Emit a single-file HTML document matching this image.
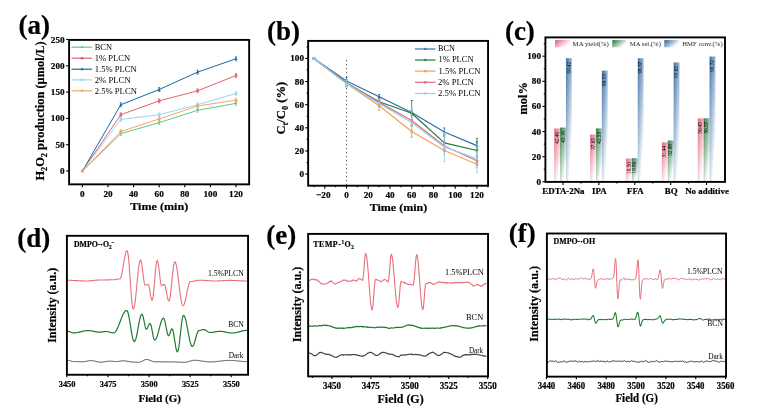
<!DOCTYPE html>
<html><head><meta charset="utf-8"><style>
html,body{margin:0;padding:0;background:#fff;width:762px;height:411px;overflow:hidden}
svg{display:block;font-family:"Liberation Serif", serif;will-change:transform}
text[font-weight="bold"]{stroke:#000;stroke-width:0.2px}
</style></head><body>
<svg width="762" height="411" viewBox="0 0 762 411">
<rect width="762" height="411" fill="#fff"/>
<text x="18.4" y="34.35" font-size="27" font-weight="bold" fill="#000">(a)</text>
<path d="M82.4 171 L120.8 133.65 L159.2 122.61 L197.6 110.25 L236 103.36" fill="none" stroke="#62c985" stroke-width="1" stroke-linejoin="round"/>
<line x1="120.8" y1="131.65" x2="120.8" y2="135.65" stroke="#62c985" stroke-width="0.7"/>
<line x1="119.7" y1="131.65" x2="121.9" y2="131.65" stroke="#62c985" stroke-width="0.7"/>
<line x1="119.7" y1="135.65" x2="121.9" y2="135.65" stroke="#62c985" stroke-width="0.7"/>
<line x1="159.2" y1="120.61" x2="159.2" y2="124.61" stroke="#62c985" stroke-width="0.7"/>
<line x1="158.1" y1="120.61" x2="160.3" y2="120.61" stroke="#62c985" stroke-width="0.7"/>
<line x1="158.1" y1="124.61" x2="160.3" y2="124.61" stroke="#62c985" stroke-width="0.7"/>
<line x1="197.6" y1="108.25" x2="197.6" y2="112.25" stroke="#62c985" stroke-width="0.7"/>
<line x1="196.5" y1="108.25" x2="198.7" y2="108.25" stroke="#62c985" stroke-width="0.7"/>
<line x1="196.5" y1="112.25" x2="198.7" y2="112.25" stroke="#62c985" stroke-width="0.7"/>
<line x1="236" y1="101.36" x2="236" y2="105.36" stroke="#62c985" stroke-width="0.7"/>
<line x1="234.9" y1="101.36" x2="237.1" y2="101.36" stroke="#62c985" stroke-width="0.7"/>
<line x1="234.9" y1="105.36" x2="237.1" y2="105.36" stroke="#62c985" stroke-width="0.7"/>
<path d="M80.8 169.88 L84 169.88 L82.4 172.76 Z" fill="#62c985"/>
<path d="M119.2 132.53 L122.4 132.53 L120.8 135.41 Z" fill="#62c985"/>
<path d="M157.6 121.49 L160.8 121.49 L159.2 124.37 Z" fill="#62c985"/>
<path d="M196 109.13 L199.2 109.13 L197.6 112.01 Z" fill="#62c985"/>
<path d="M234.4 102.24 L237.6 102.24 L236 105.12 Z" fill="#62c985"/>
<path d="M82.4 171 L120.8 114.72 L159.2 100.88 L197.6 90.78 L236 75.53" fill="none" stroke="#e4606f" stroke-width="1" stroke-linejoin="round"/>
<line x1="120.8" y1="112.72" x2="120.8" y2="116.72" stroke="#e4606f" stroke-width="0.7"/>
<line x1="119.7" y1="112.72" x2="121.9" y2="112.72" stroke="#e4606f" stroke-width="0.7"/>
<line x1="119.7" y1="116.72" x2="121.9" y2="116.72" stroke="#e4606f" stroke-width="0.7"/>
<line x1="159.2" y1="98.88" x2="159.2" y2="102.88" stroke="#e4606f" stroke-width="0.7"/>
<line x1="158.1" y1="98.88" x2="160.3" y2="98.88" stroke="#e4606f" stroke-width="0.7"/>
<line x1="158.1" y1="102.88" x2="160.3" y2="102.88" stroke="#e4606f" stroke-width="0.7"/>
<line x1="197.6" y1="88.78" x2="197.6" y2="92.78" stroke="#e4606f" stroke-width="0.7"/>
<line x1="196.5" y1="88.78" x2="198.7" y2="88.78" stroke="#e4606f" stroke-width="0.7"/>
<line x1="196.5" y1="92.78" x2="198.7" y2="92.78" stroke="#e4606f" stroke-width="0.7"/>
<line x1="236" y1="73.53" x2="236" y2="77.53" stroke="#e4606f" stroke-width="0.7"/>
<line x1="234.9" y1="73.53" x2="237.1" y2="73.53" stroke="#e4606f" stroke-width="0.7"/>
<line x1="234.9" y1="77.53" x2="237.1" y2="77.53" stroke="#e4606f" stroke-width="0.7"/>
<rect x="81.12" y="169.72" width="2.56" height="2.56" fill="#e4606f"/>
<rect x="119.52" y="113.44" width="2.56" height="2.56" fill="#e4606f"/>
<rect x="157.92" y="99.6" width="2.56" height="2.56" fill="#e4606f"/>
<rect x="196.32" y="89.5" width="2.56" height="2.56" fill="#e4606f"/>
<rect x="234.72" y="74.25" width="2.56" height="2.56" fill="#e4606f"/>
<path d="M82.4 171 L120.8 104.72 L159.2 89.52 L197.6 72.11 L236 58.75" fill="none" stroke="#1a6aa0" stroke-width="1" stroke-linejoin="round"/>
<line x1="120.8" y1="102.72" x2="120.8" y2="106.72" stroke="#1a6aa0" stroke-width="0.7"/>
<line x1="119.7" y1="102.72" x2="121.9" y2="102.72" stroke="#1a6aa0" stroke-width="0.7"/>
<line x1="119.7" y1="106.72" x2="121.9" y2="106.72" stroke="#1a6aa0" stroke-width="0.7"/>
<line x1="159.2" y1="87.52" x2="159.2" y2="91.52" stroke="#1a6aa0" stroke-width="0.7"/>
<line x1="158.1" y1="87.52" x2="160.3" y2="87.52" stroke="#1a6aa0" stroke-width="0.7"/>
<line x1="158.1" y1="91.52" x2="160.3" y2="91.52" stroke="#1a6aa0" stroke-width="0.7"/>
<line x1="197.6" y1="70.11" x2="197.6" y2="74.11" stroke="#1a6aa0" stroke-width="0.7"/>
<line x1="196.5" y1="70.11" x2="198.7" y2="70.11" stroke="#1a6aa0" stroke-width="0.7"/>
<line x1="196.5" y1="74.11" x2="198.7" y2="74.11" stroke="#1a6aa0" stroke-width="0.7"/>
<line x1="236" y1="56.75" x2="236" y2="60.75" stroke="#1a6aa0" stroke-width="0.7"/>
<line x1="234.9" y1="56.75" x2="237.1" y2="56.75" stroke="#1a6aa0" stroke-width="0.7"/>
<line x1="234.9" y1="60.75" x2="237.1" y2="60.75" stroke="#1a6aa0" stroke-width="0.7"/>
<path d="M80.8 172.12 L84 172.12 L82.4 169.24 Z" fill="#1a6aa0"/>
<path d="M119.2 105.84 L122.4 105.84 L120.8 102.96 Z" fill="#1a6aa0"/>
<path d="M157.6 90.64 L160.8 90.64 L159.2 87.76 Z" fill="#1a6aa0"/>
<path d="M196 73.23 L199.2 73.23 L197.6 70.35 Z" fill="#1a6aa0"/>
<path d="M234.4 59.87 L237.6 59.87 L236 56.99 Z" fill="#1a6aa0"/>
<path d="M82.4 171 L120.8 119.45 L159.2 114.72 L197.6 104.72 L236 93.47" fill="none" stroke="#9ad6f2" stroke-width="1" stroke-linejoin="round"/>
<line x1="120.8" y1="117.45" x2="120.8" y2="121.45" stroke="#9ad6f2" stroke-width="0.7"/>
<line x1="119.7" y1="117.45" x2="121.9" y2="117.45" stroke="#9ad6f2" stroke-width="0.7"/>
<line x1="119.7" y1="121.45" x2="121.9" y2="121.45" stroke="#9ad6f2" stroke-width="0.7"/>
<line x1="159.2" y1="112.72" x2="159.2" y2="116.72" stroke="#9ad6f2" stroke-width="0.7"/>
<line x1="158.1" y1="112.72" x2="160.3" y2="112.72" stroke="#9ad6f2" stroke-width="0.7"/>
<line x1="158.1" y1="116.72" x2="160.3" y2="116.72" stroke="#9ad6f2" stroke-width="0.7"/>
<line x1="197.6" y1="102.72" x2="197.6" y2="106.72" stroke="#9ad6f2" stroke-width="0.7"/>
<line x1="196.5" y1="102.72" x2="198.7" y2="102.72" stroke="#9ad6f2" stroke-width="0.7"/>
<line x1="196.5" y1="106.72" x2="198.7" y2="106.72" stroke="#9ad6f2" stroke-width="0.7"/>
<line x1="236" y1="91.47" x2="236" y2="95.47" stroke="#9ad6f2" stroke-width="0.7"/>
<line x1="234.9" y1="91.47" x2="237.1" y2="91.47" stroke="#9ad6f2" stroke-width="0.7"/>
<line x1="234.9" y1="95.47" x2="237.1" y2="95.47" stroke="#9ad6f2" stroke-width="0.7"/>
<rect x="81.12" y="169.72" width="2.56" height="2.56" fill="#9ad6f2"/>
<rect x="119.52" y="118.17" width="2.56" height="2.56" fill="#9ad6f2"/>
<rect x="157.92" y="113.44" width="2.56" height="2.56" fill="#9ad6f2"/>
<rect x="196.32" y="103.44" width="2.56" height="2.56" fill="#9ad6f2"/>
<rect x="234.72" y="92.19" width="2.56" height="2.56" fill="#9ad6f2"/>
<path d="M82.4 171 L120.8 131.55 L159.2 118.93 L197.6 105.99 L236 100.15" fill="none" stroke="#f4a66a" stroke-width="1" stroke-linejoin="round"/>
<line x1="120.8" y1="129.55" x2="120.8" y2="133.55" stroke="#f4a66a" stroke-width="0.7"/>
<line x1="119.7" y1="129.55" x2="121.9" y2="129.55" stroke="#f4a66a" stroke-width="0.7"/>
<line x1="119.7" y1="133.55" x2="121.9" y2="133.55" stroke="#f4a66a" stroke-width="0.7"/>
<line x1="159.2" y1="116.93" x2="159.2" y2="120.93" stroke="#f4a66a" stroke-width="0.7"/>
<line x1="158.1" y1="116.93" x2="160.3" y2="116.93" stroke="#f4a66a" stroke-width="0.7"/>
<line x1="158.1" y1="120.93" x2="160.3" y2="120.93" stroke="#f4a66a" stroke-width="0.7"/>
<line x1="197.6" y1="103.99" x2="197.6" y2="107.99" stroke="#f4a66a" stroke-width="0.7"/>
<line x1="196.5" y1="103.99" x2="198.7" y2="103.99" stroke="#f4a66a" stroke-width="0.7"/>
<line x1="196.5" y1="107.99" x2="198.7" y2="107.99" stroke="#f4a66a" stroke-width="0.7"/>
<line x1="236" y1="98.15" x2="236" y2="102.15" stroke="#f4a66a" stroke-width="0.7"/>
<line x1="234.9" y1="98.15" x2="237.1" y2="98.15" stroke="#f4a66a" stroke-width="0.7"/>
<line x1="234.9" y1="102.15" x2="237.1" y2="102.15" stroke="#f4a66a" stroke-width="0.7"/>
<circle cx="82.4" cy="171" r="1.44" fill="#f4a66a"/>
<circle cx="120.8" cy="131.55" r="1.44" fill="#f4a66a"/>
<circle cx="159.2" cy="118.93" r="1.44" fill="#f4a66a"/>
<circle cx="197.6" cy="105.99" r="1.44" fill="#f4a66a"/>
<circle cx="236" cy="100.15" r="1.44" fill="#f4a66a"/>
<line x1="71.6" y1="47.2" x2="92" y2="47.2" stroke="#62c985" stroke-width="1.2"/>
<path d="M80.4 46.15 L83.4 46.15 L81.9 48.85 Z" fill="#62c985"/>
<text x="94.75" y="49.55" font-size="8.04" font-weight="normal" fill="#000" textLength="17.25" lengthAdjust="spacingAndGlyphs">BCN</text>
<line x1="71.6" y1="58.2" x2="92" y2="58.2" stroke="#e4606f" stroke-width="1.2"/>
<rect x="80.7" y="57" width="2.4" height="2.4" fill="#e4606f"/>
<text x="94.75" y="61.15" font-size="8.93" font-weight="normal" fill="#000" textLength="35.54" lengthAdjust="spacingAndGlyphs">1% PLCN</text>
<line x1="71.6" y1="69.2" x2="92" y2="69.2" stroke="#1a6aa0" stroke-width="1.2"/>
<path d="M80.4 70.25 L83.4 70.25 L81.9 67.55 Z" fill="#1a6aa0"/>
<text x="94.75" y="72.05" font-size="8.93" font-weight="normal" fill="#000" textLength="42.01" lengthAdjust="spacingAndGlyphs">1.5% PLCN</text>
<line x1="71.6" y1="79.9" x2="92" y2="79.9" stroke="#9ad6f2" stroke-width="1.2"/>
<rect x="80.7" y="78.7" width="2.4" height="2.4" fill="#9ad6f2"/>
<text x="94.75" y="82.95" font-size="8.78" font-weight="normal" fill="#000" textLength="35.91" lengthAdjust="spacingAndGlyphs">2% PLCN</text>
<line x1="71.6" y1="90.8" x2="92" y2="90.8" stroke="#f4a66a" stroke-width="1.2"/>
<circle cx="81.9" cy="90.8" r="1.35" fill="#f4a66a"/>
<text x="94.75" y="93.65" font-size="9.08" font-weight="normal" fill="#000" textLength="42.1" lengthAdjust="spacingAndGlyphs">2.5% PLCN</text>
<rect x="69.1" y="39.9" width="180.05" height="144.45" fill="none" stroke="#000" stroke-width="1.9"/>
<line x1="66.1" y1="171" x2="69.1" y2="171" stroke="#000" stroke-width="1.1"/>
<line x1="66.1" y1="144.7" x2="69.1" y2="144.7" stroke="#000" stroke-width="1.1"/>
<line x1="66.1" y1="118.4" x2="69.1" y2="118.4" stroke="#000" stroke-width="1.1"/>
<line x1="66.1" y1="92.1" x2="69.1" y2="92.1" stroke="#000" stroke-width="1.1"/>
<line x1="66.1" y1="65.8" x2="69.1" y2="65.8" stroke="#000" stroke-width="1.1"/>
<line x1="66.1" y1="39.5" x2="69.1" y2="39.5" stroke="#000" stroke-width="1.1"/>
<line x1="82.4" y1="184.35" x2="82.4" y2="187.35" stroke="#000" stroke-width="1.1"/>
<line x1="108" y1="184.35" x2="108" y2="187.35" stroke="#000" stroke-width="1.1"/>
<line x1="133.6" y1="184.35" x2="133.6" y2="187.35" stroke="#000" stroke-width="1.1"/>
<line x1="159.2" y1="184.35" x2="159.2" y2="187.35" stroke="#000" stroke-width="1.1"/>
<line x1="184.8" y1="184.35" x2="184.8" y2="187.35" stroke="#000" stroke-width="1.1"/>
<line x1="210.4" y1="184.35" x2="210.4" y2="187.35" stroke="#000" stroke-width="1.1"/>
<line x1="236" y1="184.35" x2="236" y2="187.35" stroke="#000" stroke-width="1.1"/>
<text x="60" y="174" font-size="9.2" font-weight="bold" fill="#000">0</text>
<text x="55.4" y="147.7" font-size="9.2" font-weight="bold" fill="#000">50</text>
<text x="50.8" y="121.4" font-size="9.2" font-weight="bold" fill="#000">100</text>
<text x="50.8" y="95.1" font-size="9.2" font-weight="bold" fill="#000">150</text>
<text x="50.8" y="68.8" font-size="9.2" font-weight="bold" fill="#000">200</text>
<text x="50.8" y="42.5" font-size="9.2" font-weight="bold" fill="#000">250</text>
<text x="80.1" y="196.6" font-size="9.2" font-weight="bold" fill="#000">0</text>
<text x="103.4" y="196.6" font-size="9.2" font-weight="bold" fill="#000">20</text>
<text x="129" y="196.6" font-size="9.2" font-weight="bold" fill="#000">40</text>
<text x="154.6" y="196.6" font-size="9.2" font-weight="bold" fill="#000">60</text>
<text x="180.2" y="196.6" font-size="9.2" font-weight="bold" fill="#000">80</text>
<text x="203.5" y="196.6" font-size="9.2" font-weight="bold" fill="#000">100</text>
<text x="229.1" y="196.6" font-size="9.2" font-weight="bold" fill="#000">120</text>
<text x="130.2" y="209.5" font-size="11.3" font-weight="bold" fill="#000" textLength="58.02" lengthAdjust="spacingAndGlyphs">Time (min)</text>
<text x="179.9" y="0" font-size="12" font-weight="bold" text-anchor="end" transform="translate(43.6 0) rotate(-90) translate(0 0)" style="display:none"></text>
<text font-size="12.4" font-weight="bold" transform="translate(44.4 180.6) rotate(-90)" x="0" y="0">H<tspan font-size="8.3" dy="2.7">2</tspan><tspan dy="-2.7">O</tspan><tspan font-size="8.3" dy="2.7">2</tspan><tspan dy="-2.7"> production (µmol/L)</tspan></text>
<text x="267" y="40.45" font-size="27" font-weight="bold" fill="#000">(b)</text>
<line x1="346.5" y1="60" x2="346.5" y2="185.7" stroke="#444" stroke-width="0.85" stroke-dasharray="1.3 2.7"/>
<path d="M313.89 58.4 L346.5 80.96 L379.11 96.81 L411.72 112.55 L444.33 131.99 L476.94 145.64" fill="none" stroke="#2a6fa8" stroke-width="1.2" stroke-linejoin="round"/>
<path d="M312.29 59.52 L315.49 59.52 L313.89 56.64 Z" fill="#2a6fa8"/>
<line x1="346.5" y1="77.49" x2="346.5" y2="84.43" stroke="#2a6fa8" stroke-width="0.8"/>
<line x1="345.3" y1="77.49" x2="347.7" y2="77.49" stroke="#2a6fa8" stroke-width="0.8"/>
<line x1="345.3" y1="84.43" x2="347.7" y2="84.43" stroke="#2a6fa8" stroke-width="0.8"/>
<path d="M344.9 82.08 L348.1 82.08 L346.5 79.2 Z" fill="#2a6fa8"/>
<line x1="379.11" y1="94.5" x2="379.11" y2="99.13" stroke="#2a6fa8" stroke-width="0.8"/>
<line x1="377.91" y1="94.5" x2="380.31" y2="94.5" stroke="#2a6fa8" stroke-width="0.8"/>
<line x1="377.91" y1="99.13" x2="380.31" y2="99.13" stroke="#2a6fa8" stroke-width="0.8"/>
<path d="M377.51 97.93 L380.71 97.93 L379.11 95.05 Z" fill="#2a6fa8"/>
<line x1="411.72" y1="110.23" x2="411.72" y2="114.86" stroke="#2a6fa8" stroke-width="0.8"/>
<line x1="410.52" y1="110.23" x2="412.92" y2="110.23" stroke="#2a6fa8" stroke-width="0.8"/>
<line x1="410.52" y1="114.86" x2="412.92" y2="114.86" stroke="#2a6fa8" stroke-width="0.8"/>
<path d="M410.12 113.67 L413.32 113.67 L411.72 110.79 Z" fill="#2a6fa8"/>
<line x1="444.33" y1="127.94" x2="444.33" y2="136.03" stroke="#2a6fa8" stroke-width="0.8"/>
<line x1="443.13" y1="127.94" x2="445.53" y2="127.94" stroke="#2a6fa8" stroke-width="0.8"/>
<line x1="443.13" y1="136.03" x2="445.53" y2="136.03" stroke="#2a6fa8" stroke-width="0.8"/>
<path d="M442.73 133.11 L445.93 133.11 L444.33 130.23 Z" fill="#2a6fa8"/>
<line x1="476.94" y1="141.59" x2="476.94" y2="149.69" stroke="#2a6fa8" stroke-width="0.8"/>
<line x1="475.74" y1="141.59" x2="478.14" y2="141.59" stroke="#2a6fa8" stroke-width="0.8"/>
<line x1="475.74" y1="149.69" x2="478.14" y2="149.69" stroke="#2a6fa8" stroke-width="0.8"/>
<path d="M475.34 146.76 L478.54 146.76 L476.94 143.88 Z" fill="#2a6fa8"/>
<path d="M313.89 58.4 L346.5 82.93 L379.11 101.79 L411.72 113.24 L444.33 142.86 L476.94 150.5" fill="none" stroke="#237a36" stroke-width="1.2" stroke-linejoin="round"/>
<path d="M312.29 57.28 L315.49 57.28 L313.89 60.16 Z" fill="#237a36"/>
<line x1="346.5" y1="79.46" x2="346.5" y2="86.4" stroke="#237a36" stroke-width="0.8"/>
<line x1="345.3" y1="79.46" x2="347.7" y2="79.46" stroke="#237a36" stroke-width="0.8"/>
<line x1="345.3" y1="86.4" x2="347.7" y2="86.4" stroke="#237a36" stroke-width="0.8"/>
<path d="M344.9 81.81 L348.1 81.81 L346.5 84.69 Z" fill="#237a36"/>
<line x1="379.11" y1="98.32" x2="379.11" y2="105.26" stroke="#237a36" stroke-width="0.8"/>
<line x1="377.91" y1="98.32" x2="380.31" y2="98.32" stroke="#237a36" stroke-width="0.8"/>
<line x1="377.91" y1="105.26" x2="380.31" y2="105.26" stroke="#237a36" stroke-width="0.8"/>
<path d="M377.51 100.67 L380.71 100.67 L379.11 103.55 Z" fill="#237a36"/>
<line x1="411.72" y1="100.51" x2="411.72" y2="125.97" stroke="#237a36" stroke-width="0.8"/>
<line x1="410.52" y1="100.51" x2="412.92" y2="100.51" stroke="#237a36" stroke-width="0.8"/>
<line x1="410.52" y1="125.97" x2="412.92" y2="125.97" stroke="#237a36" stroke-width="0.8"/>
<path d="M410.12 112.12 L413.32 112.12 L411.72 115 Z" fill="#237a36"/>
<line x1="444.33" y1="134.18" x2="444.33" y2="151.54" stroke="#237a36" stroke-width="0.8"/>
<line x1="443.13" y1="134.18" x2="445.53" y2="134.18" stroke="#237a36" stroke-width="0.8"/>
<line x1="443.13" y1="151.54" x2="445.53" y2="151.54" stroke="#237a36" stroke-width="0.8"/>
<path d="M442.73 141.74 L445.93 141.74 L444.33 144.62 Z" fill="#237a36"/>
<line x1="476.94" y1="138.35" x2="476.94" y2="162.65" stroke="#237a36" stroke-width="0.8"/>
<line x1="475.74" y1="138.35" x2="478.14" y2="138.35" stroke="#237a36" stroke-width="0.8"/>
<line x1="475.74" y1="162.65" x2="478.14" y2="162.65" stroke="#237a36" stroke-width="0.8"/>
<path d="M475.34 149.38 L478.54 149.38 L476.94 152.26 Z" fill="#237a36"/>
<path d="M313.89 58.4 L346.5 83.62 L379.11 105.84 L411.72 131.52 L444.33 150.5 L476.94 164.27" fill="none" stroke="#f4a052" stroke-width="1.2" stroke-linejoin="round"/>
<rect x="312.61" y="57.12" width="2.56" height="2.56" fill="#f4a052"/>
<line x1="346.5" y1="80.15" x2="346.5" y2="87.09" stroke="#f4a052" stroke-width="0.8"/>
<line x1="345.3" y1="80.15" x2="347.7" y2="80.15" stroke="#f4a052" stroke-width="0.8"/>
<line x1="345.3" y1="87.09" x2="347.7" y2="87.09" stroke="#f4a052" stroke-width="0.8"/>
<rect x="345.22" y="82.34" width="2.56" height="2.56" fill="#f4a052"/>
<line x1="379.11" y1="101.21" x2="379.11" y2="110.46" stroke="#f4a052" stroke-width="0.8"/>
<line x1="377.91" y1="101.21" x2="380.31" y2="101.21" stroke="#f4a052" stroke-width="0.8"/>
<line x1="377.91" y1="110.46" x2="380.31" y2="110.46" stroke="#f4a052" stroke-width="0.8"/>
<rect x="377.83" y="104.56" width="2.56" height="2.56" fill="#f4a052"/>
<line x1="411.72" y1="125.74" x2="411.72" y2="137.31" stroke="#f4a052" stroke-width="0.8"/>
<line x1="410.52" y1="125.74" x2="412.92" y2="125.74" stroke="#f4a052" stroke-width="0.8"/>
<line x1="410.52" y1="137.31" x2="412.92" y2="137.31" stroke="#f4a052" stroke-width="0.8"/>
<rect x="410.44" y="130.24" width="2.56" height="2.56" fill="#f4a052"/>
<line x1="444.33" y1="147.03" x2="444.33" y2="153.97" stroke="#f4a052" stroke-width="0.8"/>
<line x1="443.13" y1="147.03" x2="445.53" y2="147.03" stroke="#f4a052" stroke-width="0.8"/>
<line x1="443.13" y1="153.97" x2="445.53" y2="153.97" stroke="#f4a052" stroke-width="0.8"/>
<rect x="443.05" y="149.22" width="2.56" height="2.56" fill="#f4a052"/>
<line x1="476.94" y1="160.79" x2="476.94" y2="167.74" stroke="#f4a052" stroke-width="0.8"/>
<line x1="475.74" y1="160.79" x2="478.14" y2="160.79" stroke="#f4a052" stroke-width="0.8"/>
<line x1="475.74" y1="167.74" x2="478.14" y2="167.74" stroke="#f4a052" stroke-width="0.8"/>
<rect x="475.66" y="162.99" width="2.56" height="2.56" fill="#f4a052"/>
<path d="M313.89 58.4 L346.5 83.16 L379.11 102.37 L411.72 120.53 L444.33 145.98 L476.94 160.68" fill="none" stroke="#e06a7c" stroke-width="1.2" stroke-linejoin="round"/>
<circle cx="313.89" cy="58.4" r="1.44" fill="#e06a7c"/>
<line x1="346.5" y1="80.85" x2="346.5" y2="85.47" stroke="#e06a7c" stroke-width="0.8"/>
<line x1="345.3" y1="80.85" x2="347.7" y2="80.85" stroke="#e06a7c" stroke-width="0.8"/>
<line x1="345.3" y1="85.47" x2="347.7" y2="85.47" stroke="#e06a7c" stroke-width="0.8"/>
<circle cx="346.5" cy="83.16" r="1.44" fill="#e06a7c"/>
<line x1="379.11" y1="98.89" x2="379.11" y2="105.84" stroke="#e06a7c" stroke-width="0.8"/>
<line x1="377.91" y1="98.89" x2="380.31" y2="98.89" stroke="#e06a7c" stroke-width="0.8"/>
<line x1="377.91" y1="105.84" x2="380.31" y2="105.84" stroke="#e06a7c" stroke-width="0.8"/>
<circle cx="379.11" cy="102.37" r="1.44" fill="#e06a7c"/>
<line x1="411.72" y1="115.9" x2="411.72" y2="125.16" stroke="#e06a7c" stroke-width="0.8"/>
<line x1="410.52" y1="115.9" x2="412.92" y2="115.9" stroke="#e06a7c" stroke-width="0.8"/>
<line x1="410.52" y1="125.16" x2="412.92" y2="125.16" stroke="#e06a7c" stroke-width="0.8"/>
<circle cx="411.72" cy="120.53" r="1.44" fill="#e06a7c"/>
<line x1="444.33" y1="142.51" x2="444.33" y2="149.46" stroke="#e06a7c" stroke-width="0.8"/>
<line x1="443.13" y1="142.51" x2="445.53" y2="142.51" stroke="#e06a7c" stroke-width="0.8"/>
<line x1="443.13" y1="149.46" x2="445.53" y2="149.46" stroke="#e06a7c" stroke-width="0.8"/>
<circle cx="444.33" cy="145.98" r="1.44" fill="#e06a7c"/>
<line x1="476.94" y1="156.05" x2="476.94" y2="165.31" stroke="#e06a7c" stroke-width="0.8"/>
<line x1="475.74" y1="156.05" x2="478.14" y2="156.05" stroke="#e06a7c" stroke-width="0.8"/>
<line x1="475.74" y1="165.31" x2="478.14" y2="165.31" stroke="#e06a7c" stroke-width="0.8"/>
<circle cx="476.94" cy="160.68" r="1.44" fill="#e06a7c"/>
<path d="M313.89 58.4 L346.5 83.39 L379.11 103.52 L411.72 122.5 L444.33 146.91 L476.94 158.71" fill="none" stroke="#8fd2f0" stroke-width="1.2" stroke-linejoin="round"/>
<path d="M312.29 58.4 L313.89 56.8 L315.49 58.4 L313.89 60 Z" fill="#8fd2f0"/>
<line x1="346.5" y1="79.92" x2="346.5" y2="86.86" stroke="#8fd2f0" stroke-width="0.8"/>
<line x1="345.3" y1="79.92" x2="347.7" y2="79.92" stroke="#8fd2f0" stroke-width="0.8"/>
<line x1="345.3" y1="86.86" x2="347.7" y2="86.86" stroke="#8fd2f0" stroke-width="0.8"/>
<path d="M344.9 83.39 L346.5 81.79 L348.1 83.39 L346.5 84.99 Z" fill="#8fd2f0"/>
<line x1="379.11" y1="98.89" x2="379.11" y2="108.15" stroke="#8fd2f0" stroke-width="0.8"/>
<line x1="377.91" y1="98.89" x2="380.31" y2="98.89" stroke="#8fd2f0" stroke-width="0.8"/>
<line x1="377.91" y1="108.15" x2="380.31" y2="108.15" stroke="#8fd2f0" stroke-width="0.8"/>
<path d="M377.51 103.52 L379.11 101.92 L380.71 103.52 L379.11 105.12 Z" fill="#8fd2f0"/>
<line x1="411.72" y1="108.04" x2="411.72" y2="136.96" stroke="#8fd2f0" stroke-width="0.8"/>
<line x1="410.52" y1="108.04" x2="412.92" y2="108.04" stroke="#8fd2f0" stroke-width="0.8"/>
<line x1="410.52" y1="136.96" x2="412.92" y2="136.96" stroke="#8fd2f0" stroke-width="0.8"/>
<path d="M410.12 122.5 L411.72 120.9 L413.32 122.5 L411.72 124.1 Z" fill="#8fd2f0"/>
<line x1="444.33" y1="132.45" x2="444.33" y2="161.37" stroke="#8fd2f0" stroke-width="0.8"/>
<line x1="443.13" y1="132.45" x2="445.53" y2="132.45" stroke="#8fd2f0" stroke-width="0.8"/>
<line x1="443.13" y1="161.37" x2="445.53" y2="161.37" stroke="#8fd2f0" stroke-width="0.8"/>
<path d="M442.73 146.91 L444.33 145.31 L445.93 146.91 L444.33 148.51 Z" fill="#8fd2f0"/>
<line x1="476.94" y1="144.83" x2="476.94" y2="172.6" stroke="#8fd2f0" stroke-width="0.8"/>
<line x1="475.74" y1="144.83" x2="478.14" y2="144.83" stroke="#8fd2f0" stroke-width="0.8"/>
<line x1="475.74" y1="172.6" x2="478.14" y2="172.6" stroke="#8fd2f0" stroke-width="0.8"/>
<path d="M475.34 158.71 L476.94 157.11 L478.54 158.71 L476.94 160.31 Z" fill="#8fd2f0"/>
<line x1="415" y1="49" x2="435.5" y2="49" stroke="#2a6fa8" stroke-width="1.2"/>
<path d="M423.7 50.05 L426.7 50.05 L425.2 47.35 Z" fill="#2a6fa8"/>
<text x="438.05" y="51.45" font-size="7.29" font-weight="normal" fill="#000" textLength="17.01" lengthAdjust="spacingAndGlyphs">BCN</text>
<line x1="415" y1="60" x2="435.5" y2="60" stroke="#237a36" stroke-width="1.2"/>
<path d="M423.7 58.95 L426.7 58.95 L425.2 61.65 Z" fill="#237a36"/>
<text x="438.45" y="62.45" font-size="7.89" font-weight="normal" fill="#000" textLength="35.18" lengthAdjust="spacingAndGlyphs">1% PLCN</text>
<line x1="415" y1="71.1" x2="435.5" y2="71.1" stroke="#f4a052" stroke-width="1.2"/>
<rect x="424" y="69.9" width="2.4" height="2.4" fill="#f4a052"/>
<text x="438.45" y="74.15" font-size="8.78" font-weight="normal" fill="#000" textLength="42.04" lengthAdjust="spacingAndGlyphs">1.5% PLCN</text>
<line x1="415" y1="82.3" x2="435.5" y2="82.3" stroke="#e06a7c" stroke-width="1.2"/>
<circle cx="425.2" cy="82.3" r="1.35" fill="#e06a7c"/>
<text x="438.05" y="84.95" font-size="8.78" font-weight="normal" fill="#000" textLength="35.81" lengthAdjust="spacingAndGlyphs">2% PLCN</text>
<line x1="415" y1="93.5" x2="435.5" y2="93.5" stroke="#8fd2f0" stroke-width="1.2"/>
<path d="M423.7 93.5 L425.2 92 L426.7 93.5 L425.2 95 Z" fill="#8fd2f0"/>
<text x="438.05" y="96.05" font-size="8.63" font-weight="normal" fill="#000" textLength="42.45" lengthAdjust="spacingAndGlyphs">2.5% PLCN</text>
<rect x="308.15" y="40.9" width="179.9" height="144.8" fill="none" stroke="#000" stroke-width="1.9"/>
<line x1="305.15" y1="174.1" x2="308.15" y2="174.1" stroke="#000" stroke-width="1.1"/>
<line x1="305.15" y1="150.96" x2="308.15" y2="150.96" stroke="#000" stroke-width="1.1"/>
<line x1="305.15" y1="127.82" x2="308.15" y2="127.82" stroke="#000" stroke-width="1.1"/>
<line x1="305.15" y1="104.68" x2="308.15" y2="104.68" stroke="#000" stroke-width="1.1"/>
<line x1="305.15" y1="81.54" x2="308.15" y2="81.54" stroke="#000" stroke-width="1.1"/>
<line x1="305.15" y1="58.4" x2="308.15" y2="58.4" stroke="#000" stroke-width="1.1"/>
<line x1="306.55" y1="162.53" x2="308.15" y2="162.53" stroke="#000" stroke-width="1.1"/>
<line x1="306.55" y1="139.39" x2="308.15" y2="139.39" stroke="#000" stroke-width="1.1"/>
<line x1="306.55" y1="116.25" x2="308.15" y2="116.25" stroke="#000" stroke-width="1.1"/>
<line x1="306.55" y1="93.11" x2="308.15" y2="93.11" stroke="#000" stroke-width="1.1"/>
<line x1="306.55" y1="69.97" x2="308.15" y2="69.97" stroke="#000" stroke-width="1.1"/>
<line x1="306.55" y1="46.83" x2="308.15" y2="46.83" stroke="#000" stroke-width="1.1"/>
<line x1="324.76" y1="185.7" x2="324.76" y2="188.7" stroke="#000" stroke-width="1.1"/>
<line x1="346.5" y1="185.7" x2="346.5" y2="188.7" stroke="#000" stroke-width="1.1"/>
<line x1="368.24" y1="185.7" x2="368.24" y2="188.7" stroke="#000" stroke-width="1.1"/>
<line x1="389.98" y1="185.7" x2="389.98" y2="188.7" stroke="#000" stroke-width="1.1"/>
<line x1="411.72" y1="185.7" x2="411.72" y2="188.7" stroke="#000" stroke-width="1.1"/>
<line x1="433.46" y1="185.7" x2="433.46" y2="188.7" stroke="#000" stroke-width="1.1"/>
<line x1="455.2" y1="185.7" x2="455.2" y2="188.7" stroke="#000" stroke-width="1.1"/>
<line x1="476.94" y1="185.7" x2="476.94" y2="188.7" stroke="#000" stroke-width="1.1"/>
<line x1="313.89" y1="185.7" x2="313.89" y2="187.3" stroke="#000" stroke-width="1.1"/>
<line x1="335.63" y1="185.7" x2="335.63" y2="187.3" stroke="#000" stroke-width="1.1"/>
<line x1="357.37" y1="185.7" x2="357.37" y2="187.3" stroke="#000" stroke-width="1.1"/>
<line x1="379.11" y1="185.7" x2="379.11" y2="187.3" stroke="#000" stroke-width="1.1"/>
<line x1="400.85" y1="185.7" x2="400.85" y2="187.3" stroke="#000" stroke-width="1.1"/>
<line x1="422.59" y1="185.7" x2="422.59" y2="187.3" stroke="#000" stroke-width="1.1"/>
<line x1="444.33" y1="185.7" x2="444.33" y2="187.3" stroke="#000" stroke-width="1.1"/>
<line x1="466.07" y1="185.7" x2="466.07" y2="187.3" stroke="#000" stroke-width="1.1"/>
<line x1="487.81" y1="185.7" x2="487.81" y2="187.3" stroke="#000" stroke-width="1.1"/>
<text x="299.4" y="177.1" font-size="9.2" font-weight="bold" fill="#000">0</text>
<text x="294.8" y="153.96" font-size="9.2" font-weight="bold" fill="#000">20</text>
<text x="294.8" y="130.82" font-size="9.2" font-weight="bold" fill="#000">40</text>
<text x="294.8" y="107.68" font-size="9.2" font-weight="bold" fill="#000">60</text>
<text x="294.8" y="84.54" font-size="9.2" font-weight="bold" fill="#000">80</text>
<text x="290.2" y="61.4" font-size="9.2" font-weight="bold" fill="#000">100</text>
<text x="316.06" y="197.8" font-size="9.2" font-weight="bold" fill="#000">−20</text>
<text x="344.2" y="197.8" font-size="9.2" font-weight="bold" fill="#000">0</text>
<text x="363.64" y="197.8" font-size="9.2" font-weight="bold" fill="#000">20</text>
<text x="385.38" y="197.8" font-size="9.2" font-weight="bold" fill="#000">40</text>
<text x="407.12" y="197.8" font-size="9.2" font-weight="bold" fill="#000">60</text>
<text x="428.86" y="197.8" font-size="9.2" font-weight="bold" fill="#000">80</text>
<text x="448.3" y="197.8" font-size="9.2" font-weight="bold" fill="#000">100</text>
<text x="470.04" y="197.8" font-size="9.2" font-weight="bold" fill="#000">120</text>
<text x="369.7" y="211.4" font-size="11.3" font-weight="bold" fill="#000" textLength="57.52" lengthAdjust="spacingAndGlyphs">Time (min)</text>
<text font-size="12.6" font-weight="bold" transform="translate(285.0 134.6) rotate(-90)" x="0" y="0">C<tspan font-size="8.4" dy="2.7">t</tspan><tspan dy="-2.7">/C</tspan><tspan font-size="8.4" dy="2.7">0</tspan><tspan dy="-2.7"> (%)</tspan></text>
<text x="504.9" y="40.35" font-size="27" font-weight="bold" fill="#000">(c)</text>
<defs><linearGradient id="gp" x1="0" y1="0" x2="0.62" y2="0.92"><stop offset="0" stop-color="#e2687c"/><stop offset="1" stop-color="#ffffff"/></linearGradient><linearGradient id="gg" x1="0" y1="0" x2="0.62" y2="0.92"><stop offset="0" stop-color="#2f7c44"/><stop offset="1" stop-color="#ffffff"/></linearGradient><linearGradient id="gb" x1="0" y1="0" x2="0.62" y2="0.92"><stop offset="0" stop-color="#3a72aa"/><stop offset="1" stop-color="#ffffff"/></linearGradient><linearGradient id="lp" x1="0" y1="0" x2="1" y2="0.6"><stop offset="0" stop-color="#e35a72"/><stop offset="0.9" stop-color="#ffffff"/></linearGradient><linearGradient id="lg" x1="0" y1="0" x2="1" y2="0.6"><stop offset="0" stop-color="#1f6e35"/><stop offset="0.9" stop-color="#ffffff"/></linearGradient><linearGradient id="lb" x1="0" y1="0" x2="1" y2="0.6"><stop offset="0" stop-color="#22609e"/><stop offset="0.9" stop-color="#ffffff"/></linearGradient></defs>
<rect x="554.15" y="128.47" width="5.9" height="53.43" fill="url(#gp)"/>
<text x="558.8" y="132.07" font-size="5.2" font-weight="normal" fill="#000" text-anchor="end" transform="rotate(-90 558.8 132.07)">42.46</text>
<rect x="560.05" y="127.57" width="5.9" height="54.33" fill="url(#gg)"/>
<text x="564.7" y="131.17" font-size="5.2" font-weight="normal" fill="#000" text-anchor="end" transform="rotate(-90 564.7 131.17)">43.18</text>
<rect x="565.95" y="58.18" width="5.9" height="123.72" fill="url(#gb)"/>
<text x="570.6" y="61.78" font-size="5.2" font-weight="normal" fill="#000" text-anchor="end" transform="rotate(-90 570.6 61.78)">98.42</text>
<rect x="590.05" y="134.51" width="5.9" height="47.39" fill="url(#gp)"/>
<text x="594.7" y="138.11" font-size="5.2" font-weight="normal" fill="#000" text-anchor="end" transform="rotate(-90 594.7 138.11)">37.65</text>
<rect x="595.95" y="128.36" width="5.9" height="53.54" fill="url(#gg)"/>
<text x="600.6" y="131.96" font-size="5.2" font-weight="normal" fill="#000" text-anchor="end" transform="rotate(-90 600.6 131.96)">42.55</text>
<rect x="601.85" y="70.61" width="5.9" height="111.29" fill="url(#gb)"/>
<text x="606.5" y="74.21" font-size="5.2" font-weight="normal" fill="#000" text-anchor="end" transform="rotate(-90 606.5 74.21)">88.53</text>
<rect x="625.95" y="158.56" width="5.9" height="23.34" fill="url(#gp)"/>
<text x="630.6" y="162.16" font-size="5.2" font-weight="normal" fill="#000" text-anchor="end" transform="rotate(-90 630.6 162.16)">18.50</text>
<rect x="631.85" y="158.19" width="5.9" height="23.71" fill="url(#gg)"/>
<text x="636.5" y="161.79" font-size="5.2" font-weight="normal" fill="#000" text-anchor="end" transform="rotate(-90 636.5 161.79)">18.80</text>
<rect x="637.75" y="58.25" width="5.9" height="123.65" fill="url(#gb)"/>
<text x="642.4" y="61.85" font-size="5.2" font-weight="normal" fill="#000" text-anchor="end" transform="rotate(-90 642.4 61.85)">98.37</text>
<rect x="661.85" y="142.31" width="5.9" height="39.59" fill="url(#gp)"/>
<text x="666.5" y="145.91" font-size="5.2" font-weight="normal" fill="#000" text-anchor="end" transform="rotate(-90 666.5 145.91)">31.44</text>
<rect x="667.75" y="140.5" width="5.9" height="41.4" fill="url(#gg)"/>
<text x="672.4" y="144.1" font-size="5.2" font-weight="normal" fill="#000" text-anchor="end" transform="rotate(-90 672.4 144.1)">32.88</text>
<rect x="673.65" y="62.45" width="5.9" height="119.45" fill="url(#gb)"/>
<text x="678.3" y="66.05" font-size="5.2" font-weight="normal" fill="#000" text-anchor="end" transform="rotate(-90 678.3 66.05)">95.02</text>
<rect x="697.75" y="118.43" width="5.9" height="63.47" fill="url(#gp)"/>
<text x="702.4" y="122.03" font-size="5.2" font-weight="normal" fill="#000" text-anchor="end" transform="rotate(-90 702.4 122.03)">50.45</text>
<rect x="703.65" y="118.28" width="5.9" height="63.62" fill="url(#gg)"/>
<text x="708.3" y="121.88" font-size="5.2" font-weight="normal" fill="#000" text-anchor="end" transform="rotate(-90 708.3 121.88)">50.57</text>
<rect x="709.55" y="56.55" width="5.9" height="125.35" fill="url(#gb)"/>
<text x="714.2" y="60.15" font-size="5.2" font-weight="normal" fill="#000" text-anchor="end" transform="rotate(-90 714.2 60.15)">99.72</text>
<rect x="555" y="40.1" width="15.2" height="7.2" fill="url(#lp)"/>
<text x="572.6" y="46" font-size="7.02" font-weight="normal" fill="#222" textLength="36.23" lengthAdjust="spacingAndGlyphs">MA yield(%)</text>
<rect x="612.3" y="40.1" width="14.3" height="7.2" fill="url(#lg)"/>
<text x="629.8" y="45.9" font-size="6.72" font-weight="normal" fill="#222" textLength="31.06" lengthAdjust="spacingAndGlyphs">MA sel.(%)</text>
<rect x="664.3" y="40.1" width="15" height="7.2" fill="url(#lb)"/>
<text x="682.3" y="45.9" font-size="6.72" font-weight="normal" fill="#222" textLength="40.31" lengthAdjust="spacingAndGlyphs">HMF conv.(%)</text>
<rect x="545.4" y="37.4" width="179.6" height="144.5" fill="none" stroke="#000" stroke-width="1.9"/>
<line x1="542.4" y1="181.8" x2="545.4" y2="181.8" stroke="#000" stroke-width="1.1"/>
<line x1="542.4" y1="156.68" x2="545.4" y2="156.68" stroke="#000" stroke-width="1.1"/>
<line x1="542.4" y1="131.56" x2="545.4" y2="131.56" stroke="#000" stroke-width="1.1"/>
<line x1="542.4" y1="106.44" x2="545.4" y2="106.44" stroke="#000" stroke-width="1.1"/>
<line x1="542.4" y1="81.32" x2="545.4" y2="81.32" stroke="#000" stroke-width="1.1"/>
<line x1="542.4" y1="56.2" x2="545.4" y2="56.2" stroke="#000" stroke-width="1.1"/>
<line x1="543.8" y1="169.24" x2="545.4" y2="169.24" stroke="#000" stroke-width="1.1"/>
<line x1="543.8" y1="144.12" x2="545.4" y2="144.12" stroke="#000" stroke-width="1.1"/>
<line x1="543.8" y1="119" x2="545.4" y2="119" stroke="#000" stroke-width="1.1"/>
<line x1="543.8" y1="93.88" x2="545.4" y2="93.88" stroke="#000" stroke-width="1.1"/>
<line x1="543.8" y1="68.76" x2="545.4" y2="68.76" stroke="#000" stroke-width="1.1"/>
<line x1="543.8" y1="43.64" x2="545.4" y2="43.64" stroke="#000" stroke-width="1.1"/>
<line x1="563" y1="181.9" x2="563" y2="184.9" stroke="#000" stroke-width="1.1"/>
<line x1="598.9" y1="181.9" x2="598.9" y2="184.9" stroke="#000" stroke-width="1.1"/>
<line x1="634.8" y1="181.9" x2="634.8" y2="184.9" stroke="#000" stroke-width="1.1"/>
<line x1="670.7" y1="181.9" x2="670.7" y2="184.9" stroke="#000" stroke-width="1.1"/>
<line x1="706.6" y1="181.9" x2="706.6" y2="184.9" stroke="#000" stroke-width="1.1"/>
<line x1="580.95" y1="181.9" x2="580.95" y2="183.5" stroke="#000" stroke-width="1.1"/>
<line x1="616.85" y1="181.9" x2="616.85" y2="183.5" stroke="#000" stroke-width="1.1"/>
<line x1="652.75" y1="181.9" x2="652.75" y2="183.5" stroke="#000" stroke-width="1.1"/>
<line x1="688.65" y1="181.9" x2="688.65" y2="183.5" stroke="#000" stroke-width="1.1"/>
<text x="536.4" y="184.8" font-size="9.2" font-weight="bold" fill="#000">0</text>
<text x="531.8" y="159.68" font-size="9.2" font-weight="bold" fill="#000">20</text>
<text x="531.8" y="134.56" font-size="9.2" font-weight="bold" fill="#000">40</text>
<text x="531.8" y="109.44" font-size="9.2" font-weight="bold" fill="#000">60</text>
<text x="531.8" y="84.32" font-size="9.2" font-weight="bold" fill="#000">80</text>
<text x="527.2" y="59.2" font-size="9.2" font-weight="bold" fill="#000">100</text>
<text x="542.3" y="193.6" font-size="8.9" font-weight="bold" fill="#000">EDTA-2Na</text>
<text x="592.05" y="193.6" font-size="8.9" font-weight="bold" fill="#000">IPA</text>
<text x="627" y="193.6" font-size="8.9" font-weight="bold" fill="#000">FFA</text>
<text x="664.75" y="193.6" font-size="8.9" font-weight="bold" fill="#000">BQ</text>
<text x="685.2" y="193.6" font-size="8.9" font-weight="bold" fill="#000">No additive</text>
<text x="506.55" y="102.55" font-size="12.3" font-weight="bold" fill="#000" transform="rotate(-90 522.6 98.35)">mol%</text>
<text x="17.3" y="247.3" font-size="27" font-weight="bold" fill="#000">(d)</text>
<text x="73.9" y="246.6" font-size="7.8" font-weight="bold">DMPO-·O<tspan font-size="5.2" dy="2">2</tspan><tspan font-size="5.2" dy="-5">−</tspan></text>
<path d="M67.5 280.2 L68 280.2 L68.5 280.21 L69 280.23 L69.5 280.25 L70 280.28 L70.5 280.31 L71 280.35 L71.5 280.38 L72 280.42 L72.5 280.45 L73 280.49 L73.5 280.52 L74 280.55 L74.5 280.57 L75 280.59 L75.5 280.6 L76 280.6 L76.5 280.6 L77 280.61 L77.5 280.62 L78 280.64 L78.5 280.66 L79 280.68 L79.5 280.71 L80 280.74 L80.5 280.77 L81 280.8 L81.5 280.83 L82 280.86 L82.5 280.89 L83 280.92 L83.5 280.94 L84 280.96 L84.5 280.98 L85 280.99 L85.5 281 L86 281 L86.5 281 L87 280.99 L87.5 280.97 L88 280.95 L88.5 280.92 L89 280.89 L89.5 280.85 L90 280.81 L90.5 280.77 L91 280.72 L91.5 280.67 L92 280.61 L92.5 280.56 L93 280.5 L93.5 280.44 L94 280.39 L94.5 280.33 L95 280.28 L95.5 280.23 L96 280.19 L96.5 280.15 L97 280.11 L97.5 280.08 L98 280.05 L98.5 280.03 L99 280.01 L99.5 280 L100 280 L100.5 280 L101 280 L101.5 279.99 L102 279.99 L102.5 279.98 L103 279.97 L103.5 279.97 L104 279.96 L104.5 279.95 L105 279.94 L105.5 279.92 L106 279.91 L106.5 279.9 L107 279.89 L107.5 279.88 L108 279.86 L108.5 279.85 L109 279.84 L109.5 279.83 L110 279.83 L110.5 279.82 L111 279.81 L111.5 279.81 L112 279.8 L112.5 279.8 L113 279.8 L113.52 279.79 L114.03 279.75 L114.55 279.7 L115.06 279.63 L115.58 279.54 L116.09 279.45 L116.61 279.35 L117.12 279.26 L117.64 279.17 L118.15 279.1 L118.67 279.05 L119.18 279.01 L119.7 279 L120.23 278.65 L120.76 277.6 L121.29 275.91 L121.81 273.67 L122.34 270.99 L122.87 268 L123.4 264.85 L123.93 261.7 L124.46 258.71 L124.99 256.03 L125.51 253.79 L126.04 252.1 L126.57 251.05 L127.1 250.7 L127.62 251.7 L128.13 254.62 L128.65 259.27 L129.17 265.32 L129.68 272.38 L130.2 279.95 L130.72 287.52 L131.23 294.57 L131.75 300.63 L132.27 305.28 L132.78 308.2 L133.3 309.2 L133.81 308.58 L134.33 306.76 L134.84 303.82 L135.36 299.92 L135.87 295.25 L136.39 290.04 L136.9 284.55 L137.41 279.06 L137.93 273.85 L138.44 269.18 L138.96 265.28 L139.47 262.34 L139.99 260.52 L140.5 259.9 L141.02 260.67 L141.54 262.87 L142.07 266.25 L142.59 270.39 L143.11 274.81 L143.63 278.95 L144.16 282.33 L144.68 284.53 L145.2 285.3 L145.78 285.2 L146.36 284.95 L146.94 284.65 L147.52 284.4 L148.1 284.3 L148.6 284.91 L149.1 286.66 L149.6 289.27 L150.1 292.35 L150.6 295.43 L151.1 298.04 L151.6 299.79 L152.1 300.4 L152.61 299.42 L153.12 296.59 L153.63 292.18 L154.14 286.61 L154.65 280.45 L155.16 274.29 L155.67 268.72 L156.18 264.31 L156.69 261.48 L157.2 260.5 L157.7 261.26 L158.2 263.46 L158.7 266.82 L159.2 270.95 L159.7 275.35 L160.2 279.48 L160.7 282.84 L161.2 285.04 L161.7 285.8 L162.2 285.66 L162.7 285.28 L163.2 284.82 L163.7 284.44 L164.2 284.3 L164.72 284.81 L165.24 286.27 L165.77 288.5 L166.29 291.24 L166.81 294.16 L167.33 296.9 L167.86 299.13 L168.38 300.59 L168.9 301.1 L169.44 300.3 L169.97 297.98 L170.51 294.32 L171.05 289.61 L171.58 284.25 L172.12 278.65 L172.65 273.29 L173.19 268.58 L173.73 264.92 L174.26 262.6 L174.8 261.8 L175.31 262.22 L175.83 263.47 L176.34 265.51 L176.85 268.24 L177.36 271.58 L177.88 275.38 L178.39 279.51 L178.9 283.8 L179.41 288.09 L179.93 292.22 L180.44 296.02 L180.95 299.36 L181.46 302.09 L181.97 304.13 L182.49 305.38 L183 305.8 L183.5 305.53 L184 304.75 L184.5 303.48 L185 301.78 L185.5 299.73 L186 297.4 L186.5 294.92 L187 292.38 L187.5 289.9 L188 287.57 L188.5 285.52 L189 283.82 L189.5 282.55 L190 281.77 L190.5 281.5 L191 281.49 L191.5 281.46 L192 281.42 L192.5 281.36 L193 281.29 L193.5 281.21 L194 281.11 L194.5 281.01 L195 280.9 L195.5 280.8 L196 280.69 L196.5 280.59 L197 280.49 L197.5 280.41 L198 280.34 L198.5 280.28 L199 280.24 L199.5 280.21 L200 280.2 L200.5 280.2 L201 280.21 L201.5 280.22 L202 280.23 L202.5 280.25 L203 280.28 L203.5 280.3 L204 280.33 L204.5 280.36 L205 280.4 L205.5 280.44 L206 280.48 L206.5 280.52 L207 280.56 L207.5 280.6 L208 280.64 L208.5 280.68 L209 280.72 L209.5 280.76 L210 280.8 L210.5 280.84 L211 280.87 L211.5 280.9 L212 280.92 L212.5 280.95 L213 280.97 L213.5 280.98 L214 280.99 L214.5 281 L215 281 L215.5 281 L216 280.99 L216.5 280.99 L217 280.97 L217.5 280.96 L218 280.94 L218.5 280.92 L219 280.9 L219.5 280.88 L220 280.85 L220.5 280.82 L221 280.79 L221.5 280.76 L222 280.73 L222.5 280.7 L223 280.67 L223.5 280.64 L224 280.61 L224.5 280.58 L225 280.55 L225.5 280.52 L226 280.5 L226.5 280.48 L227 280.46 L227.5 280.44 L228 280.43 L228.5 280.41 L229 280.41 L229.5 280.4 L230 280.4 L230.5 280.4 L231 280.41 L231.5 280.41 L232 280.42 L232.5 280.43 L233 280.44 L233.5 280.46 L234 280.48 L234.5 280.5 L235 280.52 L235.5 280.54 L236 280.57 L236.5 280.59 L237 280.62 L237.5 280.64 L238 280.67 L238.5 280.7 L239 280.73 L239.5 280.76 L240 280.78 L240.5 280.81 L241 280.83 L241.5 280.86 L242 280.88 L242.5 280.9 L243 280.92 L243.5 280.94 L244 280.96 L244.5 280.97 L245 280.98 L245.5 280.99 L246 280.99 L246.5 281 L247 281" fill="none" stroke="#e8707e" stroke-width="1.1" stroke-linejoin="round"/>
<path d="M67.5 331.2 L68 331.23 L68.5 331.31 L69 331.45 L69.5 331.62 L70 331.83 L70.5 332.05 L71 332.27 L71.5 332.47 L72 332.65 L72.5 332.79 L73 332.87 L73.5 332.9 L74 332.89 L74.5 332.87 L75 332.84 L75.5 332.79 L76 332.74 L76.5 332.67 L77 332.58 L77.5 332.49 L78 332.4 L78.5 332.29 L79 332.18 L79.5 332.06 L80 331.94 L80.5 331.81 L81 331.69 L81.5 331.56 L82 331.44 L82.5 331.32 L83 331.21 L83.5 331.1 L84 331.01 L84.5 330.92 L85 330.83 L85.5 330.76 L86 330.71 L86.5 330.66 L87 330.63 L87.5 330.61 L88 330.6 L88.5 330.61 L89 330.63 L89.5 330.66 L90 330.71 L90.5 330.77 L91 330.83 L91.5 330.91 L92 331 L92.5 331.09 L93 331.19 L93.5 331.3 L94 331.4 L94.5 331.5 L95 331.61 L95.5 331.71 L96 331.8 L96.5 331.89 L97 331.97 L97.5 332.03 L98 332.09 L98.5 332.14 L99 332.17 L99.5 332.19 L100 332.2 L100.5 332.19 L101 332.15 L101.5 332.1 L102 332.02 L102.5 331.94 L103 331.85 L103.5 331.76 L104 331.68 L104.5 331.6 L105 331.55 L105.5 331.51 L106 331.5 L106.5 331.52 L107 331.56 L107.5 331.63 L108 331.73 L108.5 331.85 L109 331.98 L109.5 332.13 L110 332.27 L110.5 332.42 L111 332.55 L111.5 332.67 L112 332.77 L112.5 332.84 L113 332.88 L113.5 332.9 L114.01 332.82 L114.52 332.57 L115.02 332.17 L115.53 331.62 L116.04 330.92 L116.55 330.08 L117.05 329.13 L117.56 328.06 L118.07 326.9 L118.58 325.67 L119.08 324.38 L119.59 323.05 L120.1 321.7 L120.61 320.35 L121.12 319.02 L121.62 317.73 L122.13 316.5 L122.64 315.34 L123.15 314.27 L123.65 313.32 L124.16 312.48 L124.67 311.78 L125.18 311.23 L125.68 310.83 L126.19 310.58 L126.7 310.5 L127.21 310.84 L127.71 311.84 L128.22 313.47 L128.73 315.65 L129.23 318.27 L129.74 321.24 L130.25 324.42 L130.75 327.68 L131.26 330.86 L131.77 333.82 L132.27 336.45 L132.78 338.63 L133.29 340.26 L133.79 341.26 L134.3 341.6 L134.81 341.3 L135.31 340.42 L135.82 338.98 L136.33 337.07 L136.83 334.75 L137.34 332.13 L137.85 329.33 L138.35 326.47 L138.86 323.67 L139.37 321.05 L139.87 318.73 L140.38 316.82 L140.89 315.38 L141.39 314.5 L141.9 314.2 L142.4 314.65 L142.9 315.95 L143.4 317.95 L143.9 320.4 L144.4 323 L144.9 325.45 L145.4 327.45 L145.9 328.75 L146.4 329.2 L146.91 328.91 L147.43 328.11 L147.94 326.95 L148.46 325.65 L148.97 324.49 L149.49 323.69 L150 323.4 L150.52 323.9 L151.04 325.35 L151.57 327.57 L152.09 330.3 L152.61 333.2 L153.13 335.93 L153.66 338.15 L154.18 339.6 L154.7 340.1 L155.22 339.91 L155.74 339.36 L156.25 338.46 L156.77 337.24 L157.29 335.75 L157.81 334.03 L158.32 332.15 L158.84 330.16 L159.36 328.14 L159.88 326.15 L160.39 324.27 L160.91 322.55 L161.43 321.06 L161.95 319.84 L162.46 318.94 L162.98 318.39 L163.5 318.2 L164.01 318.63 L164.52 319.88 L165.03 321.83 L165.54 324.28 L166.05 327 L166.56 329.72 L167.07 332.17 L167.58 334.12 L168.09 335.37 L168.6 335.8 L169.17 335.33 L169.73 334.05 L170.3 332.3 L170.87 330.55 L171.43 329.27 L172 328.8 L172.54 329.36 L173.08 331 L173.62 333.54 L174.16 336.75 L174.7 340.3 L175.24 343.85 L175.78 347.06 L176.32 349.6 L176.86 351.24 L177.4 351.8 L177.91 351.18 L178.42 349.35 L178.93 346.45 L179.43 342.68 L179.94 338.27 L180.45 333.55 L180.96 328.83 L181.47 324.43 L181.97 320.65 L182.48 317.75 L182.99 315.92 L183.5 315.3 L184.02 315.56 L184.54 316.35 L185.05 317.63 L185.57 319.36 L186.09 321.48 L186.61 323.92 L187.12 326.59 L187.64 329.42 L188.16 332.28 L188.68 335.11 L189.19 337.78 L189.71 340.22 L190.23 342.34 L190.75 344.07 L191.26 345.35 L191.78 346.14 L192.3 346.4 L192.82 346.17 L193.33 345.49 L193.85 344.4 L194.36 342.97 L194.88 341.27 L195.39 339.41 L195.91 337.49 L196.42 335.63 L196.94 333.93 L197.45 332.5 L197.97 331.41 L198.48 330.73 L199 330.5 L199.52 330.47 L200.04 330.38 L200.57 330.25 L201.09 330.09 L201.61 329.91 L202.13 329.75 L202.66 329.62 L203.18 329.53 L203.7 329.5 L204.22 329.55 L204.75 329.7 L205.27 329.94 L205.8 330.25 L206.32 330.61 L206.85 331 L207.38 331.39 L207.9 331.75 L208.43 332.06 L208.95 332.3 L209.47 332.45 L210 332.5 L210.5 332.49 L211 332.47 L211.5 332.43 L212 332.39 L212.5 332.32 L213 332.25 L213.5 332.17 L214 332.09 L214.5 331.99 L215 331.9 L215.5 331.81 L216 331.71 L216.5 331.63 L217 331.55 L217.5 331.48 L218 331.41 L218.5 331.37 L219 331.33 L219.5 331.31 L220 331.3 L220.5 331.31 L221 331.33 L221.5 331.36 L222 331.41 L222.5 331.48 L223 331.55 L223.5 331.63 L224 331.73 L224.5 331.82 L225 331.93 L225.5 332.04 L226 332.15 L226.5 332.26 L227 332.37 L227.5 332.48 L228 332.57 L228.5 332.67 L229 332.75 L229.5 332.82 L230 332.89 L230.5 332.94 L231 332.97 L231.5 332.99 L232 333 L232.5 332.99 L233 332.97 L233.5 332.94 L234 332.89 L234.5 332.83 L235 332.75 L235.5 332.67 L236 332.57 L236.5 332.46 L237 332.35 L237.5 332.23 L238 332.1 L238.5 331.97 L239 331.84 L239.5 331.7 L240 331.56 L240.5 331.43 L241 331.3 L241.5 331.17 L242 331.05 L242.5 330.94 L243 330.83 L243.5 330.73 L244 330.65 L244.5 330.57 L245 330.51 L245.5 330.46 L246 330.43 L246.5 330.41 L247 330.4" fill="none" stroke="#1f7a30" stroke-width="1.2" stroke-linejoin="round"/>
<path d="M67.8 360.3 L68.3 360.32 L68.8 360.4 L69.3 360.51 L69.8 360.65 L70.3 360.81 L70.8 360.99 L71.3 361.15 L71.8 361.29 L72.3 361.4 L72.8 361.48 L73.3 361.5 L73.81 361.5 L74.32 361.51 L74.83 361.52 L75.34 361.54 L75.86 361.55 L76.37 361.57 L76.88 361.6 L77.39 361.62 L77.9 361.65 L78.41 361.68 L78.92 361.7 L79.43 361.73 L79.94 361.75 L80.46 361.76 L80.97 361.78 L81.48 361.79 L81.99 361.8 L82.5 361.8 L83.02 361.79 L83.54 361.75 L84.06 361.7 L84.58 361.62 L85.09 361.53 L85.61 361.43 L86.13 361.32 L86.65 361.2 L87.17 361.08 L87.69 360.97 L88.21 360.87 L88.72 360.78 L89.24 360.7 L89.76 360.65 L90.28 360.61 L90.8 360.6 L91.3 360.61 L91.81 360.64 L92.31 360.69 L92.82 360.75 L93.33 360.83 L93.83 360.93 L94.33 361.04 L94.84 361.15 L95.34 361.27 L95.85 361.4 L96.36 361.53 L96.86 361.65 L97.37 361.76 L97.87 361.87 L98.38 361.97 L98.88 362.05 L99.39 362.11 L99.89 362.16 L100.4 362.19 L100.9 362.2 L101.42 362.19 L101.94 362.16 L102.46 362.12 L102.98 362.05 L103.49 361.98 L104.01 361.89 L104.53 361.8 L105.05 361.7 L105.57 361.6 L106.09 361.51 L106.61 361.42 L107.12 361.35 L107.64 361.28 L108.16 361.24 L108.68 361.21 L109.2 361.2 L109.71 361.2 L110.23 361.21 L110.74 361.23 L111.25 361.24 L111.76 361.27 L112.28 361.29 L112.79 361.32 L113.3 361.35 L113.81 361.38 L114.33 361.41 L114.84 361.43 L115.35 361.46 L115.86 361.47 L116.38 361.49 L116.89 361.5 L117.4 361.5 L117.9 361.49 L118.4 361.44 L118.9 361.38 L119.4 361.3 L119.9 361.2 L120.4 361.1 L120.9 361 L121.4 360.92 L121.9 360.86 L122.4 360.81 L122.9 360.8 L123.4 360.81 L123.91 360.83 L124.41 360.86 L124.92 360.9 L125.42 360.96 L125.93 361.02 L126.43 361.1 L126.94 361.18 L127.44 361.27 L127.95 361.36 L128.45 361.45 L128.95 361.54 L129.46 361.63 L129.96 361.72 L130.47 361.8 L130.97 361.88 L131.48 361.94 L131.98 362 L132.49 362.04 L132.99 362.07 L133.5 362.09 L134 362.1 L134.53 362.11 L135.07 362.12 L135.6 362.15 L136.13 362.18 L136.67 362.22 L137.2 362.25 L137.73 362.28 L138.27 362.29 L138.8 362.3 L139.31 362.27 L139.83 362.18 L140.34 362.03 L140.85 361.84 L141.37 361.6 L141.88 361.33 L142.39 361.05 L142.91 360.75 L143.42 360.47 L143.93 360.2 L144.45 359.96 L144.96 359.77 L145.47 359.62 L145.99 359.53 L146.5 359.5 L147 359.52 L147.5 359.58 L148 359.67 L148.5 359.8 L149 359.96 L149.5 360.14 L150 360.34 L150.5 360.54 L151 360.76 L151.5 360.96 L152 361.16 L152.5 361.34 L153 361.5 L153.5 361.63 L154 361.72 L154.5 361.78 L155 361.8 L155.51 361.8 L156.01 361.8 L156.52 361.8 L157.03 361.8 L157.53 361.81 L158.04 361.81 L158.54 361.81 L159.05 361.81 L159.56 361.82 L160.06 361.82 L160.57 361.83 L161.07 361.83 L161.58 361.84 L162.09 361.84 L162.59 361.85 L163.1 361.85 L163.61 361.85 L164.11 361.86 L164.62 361.86 L165.12 361.87 L165.63 361.87 L166.14 361.88 L166.64 361.88 L167.15 361.89 L167.66 361.89 L168.16 361.89 L168.67 361.89 L169.17 361.9 L169.68 361.9 L170.19 361.9 L170.69 361.9 L171.2 361.9 L171.7 361.9 L172.21 361.91 L172.71 361.91 L173.21 361.92 L173.72 361.93 L174.22 361.95 L174.73 361.96 L175.23 361.98 L175.73 362 L176.24 362.02 L176.74 362.04 L177.24 362.07 L177.75 362.09 L178.25 362.11 L178.76 362.13 L179.26 362.16 L179.76 362.18 L180.27 362.2 L180.77 362.22 L181.27 362.24 L181.78 362.25 L182.28 362.27 L182.79 362.28 L183.29 362.29 L183.79 362.29 L184.3 362.3 L184.8 362.3 L185.32 362.28 L185.84 362.24 L186.37 362.17 L186.89 362.07 L187.41 361.94 L187.93 361.8 L188.46 361.64 L188.98 361.47 L189.5 361.3 L190.02 361.13 L190.54 360.96 L191.07 360.8 L191.59 360.66 L192.11 360.53 L192.63 360.43 L193.16 360.36 L193.68 360.32 L194.2 360.3 L194.71 360.3 L195.21 360.32 L195.72 360.33 L196.22 360.36 L196.73 360.39 L197.24 360.43 L197.74 360.48 L198.25 360.53 L198.76 360.59 L199.26 360.66 L199.77 360.72 L200.28 360.79 L200.78 360.87 L201.29 360.94 L201.79 361.02 L202.3 361.1 L202.81 361.18 L203.31 361.26 L203.82 361.33 L204.32 361.41 L204.83 361.48 L205.34 361.54 L205.84 361.61 L206.35 361.67 L206.86 361.72 L207.36 361.77 L207.87 361.81 L208.38 361.84 L208.88 361.87 L209.39 361.88 L209.89 361.9 L210.4 361.9 L210.91 361.9 L211.42 361.89 L211.92 361.88 L212.43 361.86 L212.94 361.83 L213.45 361.8 L213.96 361.77 L214.46 361.73 L214.97 361.69 L215.48 361.65 L215.99 361.6 L216.5 361.54 L217.01 361.49 L217.51 361.43 L218.02 361.37 L218.53 361.31 L219.04 361.25 L219.55 361.18 L220.05 361.12 L220.56 361.05 L221.07 360.99 L221.58 360.93 L222.09 360.87 L222.59 360.81 L223.1 360.76 L223.61 360.7 L224.12 360.65 L224.63 360.61 L225.14 360.57 L225.64 360.53 L226.15 360.5 L226.66 360.47 L227.17 360.44 L227.68 360.42 L228.18 360.41 L228.69 360.4 L229.2 360.4 L229.71 360.4 L230.22 360.41 L230.73 360.42 L231.23 360.44 L231.74 360.46 L232.25 360.48 L232.76 360.51 L233.27 360.55 L233.78 360.59 L234.29 360.63 L234.79 360.67 L235.3 360.72 L235.81 360.76 L236.32 360.81 L236.83 360.87 L237.34 360.92 L237.85 360.97 L238.35 361.03 L238.86 361.08 L239.37 361.13 L239.88 361.19 L240.39 361.24 L240.9 361.28 L241.41 361.33 L241.91 361.37 L242.42 361.41 L242.93 361.45 L243.44 361.49 L243.95 361.52 L244.46 361.54 L244.97 361.56 L245.47 361.58 L245.98 361.59 L246.49 361.6 L247 361.6" fill="none" stroke="#474747" stroke-width="1" stroke-linejoin="round"/>
<text x="207.95" y="275.75" font-size="8.78" font-weight="normal" fill="#000" textLength="35.87" lengthAdjust="spacingAndGlyphs">1.5%PLCN</text>
<text x="228.15" y="326.85" font-size="8.04" font-weight="normal" fill="#000" textLength="15.65" lengthAdjust="spacingAndGlyphs">BCN</text>
<text x="228.75" y="357.85" font-size="8.37" font-weight="normal" fill="#000" textLength="14.69" lengthAdjust="spacingAndGlyphs">Dark</text>
<rect x="66.9" y="235.8" width="181.15" height="138.95" fill="none" stroke="#000" stroke-width="1.9"/>
<line x1="66.9" y1="374.75" x2="66.9" y2="377.25" stroke="#000" stroke-width="1.1"/>
<line x1="107.98" y1="374.75" x2="107.98" y2="377.25" stroke="#000" stroke-width="1.1"/>
<line x1="149.05" y1="374.75" x2="149.05" y2="377.25" stroke="#000" stroke-width="1.1"/>
<line x1="190.12" y1="374.75" x2="190.12" y2="377.25" stroke="#000" stroke-width="1.1"/>
<line x1="231.2" y1="374.75" x2="231.2" y2="377.25" stroke="#000" stroke-width="1.1"/>
<line x1="87.44" y1="374.75" x2="87.44" y2="376.25" stroke="#000" stroke-width="1.1"/>
<line x1="128.51" y1="374.75" x2="128.51" y2="376.25" stroke="#000" stroke-width="1.1"/>
<line x1="169.59" y1="374.75" x2="169.59" y2="376.25" stroke="#000" stroke-width="1.1"/>
<line x1="210.66" y1="374.75" x2="210.66" y2="376.25" stroke="#000" stroke-width="1.1"/>
<text x="58.7" y="386.9" font-size="8.8" font-weight="bold" textLength="16.81" lengthAdjust="spacingAndGlyphs">3450</text>
<text x="99.77" y="386.9" font-size="8.8" font-weight="bold" textLength="16.81" lengthAdjust="spacingAndGlyphs">3475</text>
<text x="140.85" y="386.9" font-size="8.8" font-weight="bold" textLength="16.81" lengthAdjust="spacingAndGlyphs">3500</text>
<text x="181.92" y="386.9" font-size="8.8" font-weight="bold" textLength="16.81" lengthAdjust="spacingAndGlyphs">3525</text>
<text x="223" y="386.9" font-size="8.8" font-weight="bold" textLength="16.81" lengthAdjust="spacingAndGlyphs">3550</text>
<text x="138.5" y="402.2" font-size="10.53" font-weight="bold" fill="#000" textLength="42.34" lengthAdjust="spacingAndGlyphs">Field (G)</text>
<text x="15.7" y="308.15" font-size="12" font-weight="bold" fill="#000" transform="rotate(-90 53.2 305.3)">Intensity (a.u.)</text>
<text x="266.2" y="243.6" font-size="27" font-weight="bold" fill="#000">(e)</text>
<text x="313.3" y="246.6" font-size="7.9" font-weight="bold" textLength="40.6" lengthAdjust="spacing">TEMP-<tspan font-size="5.3" dy="-3">1</tspan><tspan dy="3">O</tspan><tspan font-size="5.3" dy="2">2</tspan></text>
<path d="M308.8 280.24 L309.35 280.66 L309.9 280.38 L310.45 279.73 L311 279.6 L311.55 279.35 L312.1 279.41 L312.66 279.53 L313.21 279.11 L313.77 279.16 L314.33 279.84 L314.89 279.66 L315.44 279.96 L316 279.45 L316.51 279.82 L317.01 280.18 L317.52 280.1 L318.03 280.96 L318.54 281.35 L319.04 281.22 L319.55 281.72 L320.06 282.58 L320.56 283.33 L321.07 283.37 L321.58 283.61 L322.09 284.02 L322.59 283.91 L323.1 284.11 L323.7 284.21 L324.3 284.15 L324.9 283.86 L325.5 283.81 L326 283.74 L326.5 283.74 L327 283.35 L327.5 282.82 L328 282.99 L328.5 282.38 L329 282.05 L329.5 281.38 L330 281.67 L330.5 281.41 L331 280.83 L331.54 281.09 L332.07 281.67 L332.61 282.11 L333.15 282.81 L333.69 282.98 L334.23 283.72 L334.76 283.91 L335.3 283.76 L335.84 283.83 L336.38 283.68 L336.92 283.23 L337.46 282.64 L338 282.56 L338.53 282.13 L339.07 282.15 L339.6 282.34 L340.13 281.82 L340.67 281.34 L341.2 281.28 L341.73 281.07 L342.27 280.75 L342.8 280.28 L343.33 280.12 L343.87 280.05 L344.4 280.19 L344.9 280.07 L345.4 280.13 L345.9 280.42 L346.4 280.34 L346.9 280.57 L347.4 281.19 L347.9 281.44 L348.46 281.17 L349.02 281.03 L349.58 280.87 L350.14 281.1 L350.7 281.44 L351.24 281.18 L351.78 280.75 L352.32 280.63 L352.86 279.92 L353.4 280.01 L353.96 280.41 L354.52 280.4 L355.08 280.63 L355.64 280.74 L356.2 281.03 L356.72 281.15 L357.23 280 L357.75 279.9 L358.27 279.27 L358.78 278.84 L359.3 278.57 L359.85 278.74 L360.4 278.86 L360.95 279.34 L361.5 279.7 L362.05 279.77 L362.6 280.46 L363.12 278.46 L363.63 273.31 L364.15 266.85 L364.67 260.16 L365.18 255.19 L365.7 253.39 L366.23 254.48 L366.77 257.35 L367.3 261.81 L367.83 267.52 L368.37 274 L368.9 281.41 L369.43 288.65 L369.97 295.71 L370.5 301.72 L371.03 306.14 L371.57 308.95 L372.1 309.92 L372.67 307.51 L373.23 302.41 L373.8 294.77 L374.37 286.83 L374.93 281.28 L375.5 279.26 L376 279.82 L376.5 279.58 L377 279.65 L377.5 280.24 L378 280.31 L378.5 280.38 L379 280.71 L379.5 281.19 L380 281.12 L380.5 281.3 L381 281.65 L381.5 281.4 L382 281.1 L382.5 280.9 L383 280.22 L383.5 280.11 L384 279.82 L384.5 279.45 L385 279.33 L385.55 280.03 L386.1 280.18 L386.65 280.55 L387.2 281.4 L387.75 281.97 L388.3 281.56 L388.88 278.92 L389.46 272.08 L390.04 263.92 L390.62 256.61 L391.2 254.34 L391.72 255.1 L392.23 257.3 L392.75 260.73 L393.26 266.09 L393.78 271.67 L394.29 277.74 L394.81 283.98 L395.32 290.54 L395.84 296.07 L396.35 301.03 L396.87 304.51 L397.38 307.01 L397.9 307.39 L398.43 305.8 L398.97 301.48 L399.5 294.86 L400.03 287.91 L400.57 283.51 L401.1 281.37 L401.73 282.01 L402.37 282.27 L403 282.24 L403.51 282.17 L404.02 282.11 L404.53 282.91 L405.04 282.56 L405.55 283.38 L406.05 283.77 L406.56 283.76 L407.07 283.72 L407.58 284.4 L408.09 284.59 L408.6 284.44 L409.11 284.33 L409.62 284.31 L410.13 284.39 L410.64 284.42 L411.16 284.89 L411.67 284.85 L412.18 284.79 L412.69 284.8 L413.2 285.22 L413.7 283.46 L414.2 279.4 L414.7 273.2 L415.2 266.84 L415.7 260.78 L416.2 255.96 L416.7 254.59 L417.21 255.61 L417.72 258.81 L418.23 263.02 L418.73 268.39 L419.24 274.91 L419.75 282.32 L420.26 289.53 L420.77 296.2 L421.27 301.47 L421.78 306.2 L422.29 308.8 L422.8 309.59 L423.32 308.19 L423.83 302.89 L424.35 296.71 L424.87 289.73 L425.38 285.02 L425.9 283.79 L426.4 283.27 L426.9 283.56 L427.4 283.32 L427.9 283.33 L428.4 282.82 L428.9 282.64 L429.4 282.47 L429.9 282.79 L430.4 282.57 L430.98 283.01 L431.56 283.46 L432.14 283.55 L432.72 284.34 L433.3 284.22 L433.83 284.12 L434.36 283.97 L434.89 284.26 L435.42 283.87 L435.95 283.53 L436.48 282.82 L437.01 282.68 L437.54 282.53 L438.07 282.07 L438.6 282.15 L439.11 281.91 L439.62 281.83 L440.13 281.99 L440.64 282.47 L441.15 282.29 L441.66 282.6 L442.17 282.34 L442.68 282.28 L443.19 282.71 L443.71 282.82 L444.22 282.32 L444.73 282.85 L445.24 282.51 L445.75 282.59 L446.26 283.17 L446.77 282.62 L447.28 282.79 L447.79 283.34 L448.3 282.94 L448.81 282.73 L449.32 282.76 L449.83 282.79 L450.34 283.13 L450.85 282.66 L451.36 283.2 L451.87 282.8 L452.38 283.18 L452.89 283.1 L453.41 282.64 L453.92 282.58 L454.43 282.7 L454.94 282.41 L455.45 282.77 L455.96 282.32 L456.47 282.28 L456.98 282.95 L457.49 282.46 L458 282.67 L458.51 282.56 L459.02 282.46 L459.53 282.28 L460.04 282.86 L460.55 282.89 L461.06 282.87 L461.57 282.25 L462.08 282.31 L462.59 282.57 L463.1 282.8 L463.6 282.47 L464.11 282.55 L464.62 282.51 L465.13 282.21 L465.64 282.39 L466.15 282.21 L466.66 282.15 L467.17 282.02 L467.68 282.15 L468.19 282.64 L468.7 282.26 L469.23 282.5 L469.76 282.76 L470.29 283.39 L470.82 283.54 L471.35 284.06 L471.88 284.67 L472.41 285.19 L472.94 285.98 L473.47 286.28 L474 285.96 L474.56 285.83 L475.12 285.58 L475.68 285.11 L476.24 284.72 L476.8 284.32 L477.3 284.23 L477.8 284.55 L478.3 284.69 L478.8 285.34 L479.3 285.31 L479.8 285.57 L480.3 286.13 L480.8 285.95 L481.33 286.25 L481.85 285.87 L482.38 285.87 L482.91 285.04 L483.44 284.9 L483.96 284.71 L484.49 283.82 L485.02 284.1 L485.55 283.29 L486.07 283.55 L486.6 283.64" fill="none" stroke="#e8707e" stroke-width="1.1" stroke-linejoin="round"/>
<path d="M308.8 326.47 L309.31 326.47 L309.82 325.92 L310.34 325.93 L310.85 326.36 L311.36 326.28 L311.87 326.22 L312.38 325.98 L312.89 326.13 L313.41 326.1 L313.92 326.06 L314.43 325.78 L314.94 325.92 L315.45 325.88 L315.96 326.06 L316.48 326.21 L316.99 326.17 L317.5 325.93 L318.02 325.86 L318.53 325.74 L319.05 325.58 L319.57 325.55 L320.08 325.77 L320.6 325.64 L321.12 325.63 L321.63 325.89 L322.15 325.62 L322.67 325.58 L323.18 325.34 L323.7 325.16 L324.22 325.3 L324.73 325.15 L325.25 325.35 L325.77 325.62 L326.28 325.41 L326.8 325.11 L327.3 325.55 L327.81 325.54 L328.31 325.58 L328.82 325.79 L329.32 325.83 L329.83 326 L330.33 325.91 L330.84 326.48 L331.34 326.67 L331.85 326.39 L332.35 326.96 L332.86 327.14 L333.36 327.19 L333.87 327.42 L334.37 327.57 L334.88 327.98 L335.38 327.86 L335.89 328.16 L336.39 327.95 L336.9 328.31 L337.4 328.34 L337.9 328.08 L338.4 328.15 L338.9 328.37 L339.4 328.27 L339.9 328.14 L340.4 328 L340.9 328.07 L341.4 328.31 L341.9 328 L342.4 328.44 L342.91 328.05 L343.42 328.42 L343.94 328.03 L344.45 328.38 L344.96 328.18 L345.47 328.01 L345.98 327.96 L346.49 327.97 L347.01 327.87 L347.52 327.64 L348.03 327.52 L348.54 327.65 L349.05 327.85 L349.56 327.63 L350.08 327.27 L350.59 327.7 L351.1 327.64 L351.62 327.73 L352.15 327.25 L352.68 327.5 L353.2 326.99 L353.73 327.22 L354.25 326.86 L354.77 326.71 L355.3 326.98 L355.82 326.41 L356.35 326.58 L356.88 326.73 L357.4 326.35 L357.91 326.33 L358.41 326.74 L358.92 326.48 L359.42 326.67 L359.93 326.28 L360.44 326.5 L360.94 326.42 L361.45 326.75 L361.96 326.43 L362.46 326.99 L362.97 326.48 L363.48 326.95 L363.98 326.57 L364.49 326.76 L364.99 327.14 L365.5 326.79 L366.01 326.86 L366.51 327.21 L367.02 327.08 L367.52 326.92 L368.03 327.53 L368.54 327.07 L369.04 327.04 L369.55 327.26 L370.06 327.46 L370.56 327.56 L371.07 327.21 L371.58 327.36 L372.08 327.2 L372.59 327.46 L373.09 327.66 L373.6 327.64 L374.11 327.74 L374.62 327.64 L375.14 327.7 L375.65 327.58 L376.16 327.42 L376.67 327.25 L377.18 327.49 L377.69 327.25 L378.21 327.1 L378.72 327.28 L379.23 327.51 L379.74 327.04 L380.25 327.29 L380.76 327.16 L381.28 327.22 L381.79 326.99 L382.3 327.48 L382.82 327.07 L383.33 327.32 L383.85 327.28 L384.37 327.14 L384.88 327.57 L385.4 327.43 L385.92 327.5 L386.43 327.6 L386.95 327.76 L387.47 327.8 L387.98 328.17 L388.5 328.1 L389.01 328.39 L389.53 328.35 L390.04 328.37 L390.55 327.89 L391.07 327.99 L391.58 327.85 L392.1 328.02 L392.61 328 L393.12 328.06 L393.64 327.97 L394.15 327.65 L394.66 327.71 L395.18 327.73 L395.69 327.38 L396.2 327.36 L396.72 327.55 L397.23 327.34 L397.75 327.68 L398.26 327.37 L398.77 327.27 L399.29 327.31 L399.8 327.34 L400.3 327.31 L400.8 327.44 L401.3 327.33 L401.8 327.12 L402.3 327.18 L402.8 326.76 L403.3 327 L403.8 326.83 L404.3 326.49 L404.8 326.11 L405.3 325.95 L405.8 325.8 L406.3 325.3 L406.8 325.35 L407.3 325.28 L407.8 324.96 L408.3 324.82 L408.8 325.2 L409.3 324.92 L409.81 325.02 L410.31 325.3 L410.82 325.17 L411.33 325.05 L411.84 325.56 L412.34 325.31 L412.85 325.23 L413.36 325.78 L413.87 325.59 L414.37 325.88 L414.88 326.38 L415.39 326.47 L415.9 326.26 L416.4 326.72 L416.91 326.88 L417.42 327.11 L417.93 327.13 L418.43 327.53 L418.94 327.38 L419.45 327.65 L419.96 327.84 L420.46 328.29 L420.97 327.87 L421.48 328.35 L421.99 328.07 L422.49 328.33 L423 328.24 L423.5 328.28 L424.01 328.45 L424.51 328.23 L425.01 328.06 L425.52 328.06 L426.02 328.03 L426.52 328.49 L427.03 328.35 L427.53 328.54 L428.03 328.37 L428.54 327.96 L429.04 328.33 L429.54 328.39 L430.05 328.35 L430.55 328.2 L431.05 328.11 L431.55 328.16 L432.06 328.35 L432.56 328.03 L433.06 328.17 L433.57 328.13 L434.07 328.41 L434.57 328.31 L435.08 328.38 L435.58 328.32 L436.08 327.99 L436.59 327.95 L437.09 328.1 L437.59 327.96 L438.1 328.06 L438.6 328.21 L439.1 328.34 L439.6 328.12 L440.1 328.23 L440.6 327.75 L441.1 327.85 L441.6 328.16 L442.1 327.57 L442.6 327.64 L443.1 327.32 L443.6 327.23 L444.1 327.6 L444.6 327.53 L445.1 327.2 L445.6 326.76 L446.1 326.73 L446.6 326.56 L447.1 326.69 L447.6 326.57 L448.1 326.3 L448.6 326.24 L449.1 325.88 L449.6 326.04 L450.1 326.19 L450.6 325.99 L451.1 325.53 L451.6 325.72 L452.1 325.79 L452.6 325.48 L453.1 325.84 L453.6 325.58 L454.1 325.73 L454.6 325.57 L455.1 325.96 L455.6 325.88 L456.1 325.81 L456.6 325.63 L457.1 325.89 L457.6 325.73 L458.1 326.17 L458.6 326.45 L459.1 326.15 L459.6 326.47 L460.1 326.58 L460.6 326.66 L461.1 326.98 L461.6 327.24 L462.1 327.23 L462.6 327.22 L463.1 327.64 L463.6 327.37 L464.1 327.73 L464.6 327.78 L465.1 327.94 L465.6 328.07 L466.1 327.77 L466.6 328.06 L467.1 327.98 L467.6 328.17 L468.1 328.38 L468.6 328.18 L469.11 327.8 L469.62 328.04 L470.13 328.13 L470.64 328.16 L471.15 327.93 L471.65 327.93 L472.16 327.33 L472.67 327.75 L473.18 327.48 L473.69 327.26 L474.2 327.29 L474.71 327.13 L475.22 326.51 L475.73 326.8 L476.24 326.64 L476.75 326.18 L477.25 326.4 L477.76 326.22 L478.27 325.91 L478.78 326.23 L479.29 325.79 L479.8 326.07 L480.32 325.95 L480.85 325.83 L481.37 325.99 L481.89 325.89 L482.42 325.69 L482.94 326.1 L483.46 325.52 L483.98 325.43 L484.51 325.68 L485.03 325.85 L485.55 325.72 L486.08 325.76 L486.6 325.59" fill="none" stroke="#1f7a30" stroke-width="1.15" stroke-linejoin="round"/>
<path d="M308.8 352.84 L309.32 353.07 L309.83 353.09 L310.35 353.43 L310.87 353.7 L311.38 353.67 L311.9 353.96 L312.42 354.78 L312.93 354.73 L313.45 354.97 L313.97 355.63 L314.48 355.44 L315 355.7 L315.51 355.42 L316.02 355.34 L316.53 354.76 L317.04 354.67 L317.55 354.39 L318.05 353.74 L318.56 353.45 L319.07 353.04 L319.58 352.38 L320.09 352.62 L320.6 352.45 L321.12 352.31 L321.65 352.23 L322.17 352.86 L322.69 352.79 L323.22 353.14 L323.74 353.46 L324.26 353.59 L324.78 353.94 L325.31 353.83 L325.83 354.24 L326.35 354.16 L326.88 354.53 L327.4 354.53 L327.92 354.08 L328.44 354.18 L328.95 354.34 L329.47 354.94 L329.99 354.82 L330.51 355.15 L331.02 355.2 L331.54 355.58 L332.06 355.76 L332.58 355.99 L333.09 356.38 L333.61 356.59 L334.13 356.98 L334.65 357 L335.16 357.26 L335.68 357.29 L336.2 357.39 L336.7 357.15 L337.2 356.69 L337.7 356.86 L338.2 356.62 L338.7 356.24 L339.2 355.7 L339.7 355.48 L340.2 354.94 L340.7 355.15 L341.2 354.94 L341.71 354.77 L342.21 354.64 L342.72 355.11 L343.23 355.18 L343.74 354.64 L344.24 355.06 L344.75 354.81 L345.26 354.65 L345.77 354.73 L346.27 355 L346.78 355.05 L347.29 354.54 L347.8 354.87 L348.3 354.52 L348.81 354.91 L349.32 354.67 L349.83 354.99 L350.33 355.04 L350.84 354.74 L351.35 355.03 L351.86 354.61 L352.36 354.46 L352.87 354.77 L353.38 354.42 L353.89 354.52 L354.39 354.65 L354.9 354.77 L355.4 354.51 L355.9 354.49 L356.4 355.05 L356.9 354.82 L357.4 355.33 L357.9 355.42 L358.4 355.25 L358.9 355.45 L359.4 355.63 L359.9 355.84 L360.4 355.93 L360.9 356 L361.4 356.11 L361.9 356.35 L362.4 356.1 L362.91 356.02 L363.41 356.09 L363.92 355.63 L364.42 355.44 L364.93 355.56 L365.44 354.97 L365.94 354.64 L366.45 353.96 L366.96 353.84 L367.46 353.59 L367.97 352.93 L368.48 353.01 L368.98 352.79 L369.49 352.28 L369.99 352.51 L370.5 352.38 L371.02 352.56 L371.53 352.52 L372.05 352.98 L372.57 353.32 L373.08 353.26 L373.6 353.69 L374.12 354.46 L374.63 355 L375.15 354.9 L375.67 355.27 L376.18 355.5 L376.7 355.39 L377.22 355.37 L377.73 355.18 L378.25 354.97 L378.77 354.78 L379.28 354.23 L379.8 353.88 L380.32 353.71 L380.83 352.89 L381.35 352.9 L381.87 352.75 L382.38 352.34 L382.9 352.23 L383.41 352.6 L383.91 352.32 L384.42 352.37 L384.92 352.64 L385.43 352.94 L385.94 352.75 L386.44 353.06 L386.95 353.25 L387.46 353.74 L387.96 353.68 L388.47 354.09 L388.98 353.82 L389.48 354.04 L389.99 354.32 L390.49 354.51 L391 354.27 L391.51 354.16 L392.01 354.18 L392.52 354.56 L393.03 354.53 L393.53 355.11 L394.04 355.37 L394.55 355.23 L395.05 355.55 L395.56 356.12 L396.07 356.26 L396.57 356.57 L397.08 356.47 L397.59 356.47 L398.09 356.65 L398.6 356.98 L399.12 356.5 L399.64 356.12 L400.16 355.64 L400.68 355.21 L401.2 355.05 L401.7 355.35 L402.2 354.87 L402.7 354.76 L403.2 355.29 L403.7 355.21 L404.2 355.23 L404.7 354.84 L405.2 355.09 L405.7 355.02 L406.2 354.53 L406.7 354.78 L407.2 354.78 L407.7 354.62 L408.2 354.48 L408.7 354.29 L409.2 354.28 L409.7 354.18 L410.2 354.06 L410.7 354.36 L411.2 354.17 L411.7 354.49 L412.2 354.04 L412.7 354.58 L413.2 354.48 L413.7 354.65 L414.2 354.68 L414.7 354.72 L415.2 354.57 L415.7 354.27 L416.2 354.75 L416.7 354.44 L417.2 354.54 L417.7 354.78 L418.2 354.71 L418.7 354.65 L419.21 354.99 L419.72 354.88 L420.23 354.85 L420.74 354.96 L421.25 355.52 L421.75 355.49 L422.26 355.86 L422.77 355.77 L423.28 355.81 L423.79 356.09 L424.3 356.29 L424.81 355.87 L425.31 356.13 L425.82 356.04 L426.32 355.74 L426.83 355.47 L427.34 354.66 L427.84 354.69 L428.35 354.47 L428.86 353.62 L429.36 353.4 L429.87 353.08 L430.38 352.96 L430.88 352.67 L431.39 352.52 L431.89 352.6 L432.4 352.1 L432.92 352.19 L433.43 352.38 L433.95 352.63 L434.47 352.92 L434.98 353.83 L435.5 354.16 L436.02 354.1 L436.53 354.73 L437.05 354.94 L437.57 355.18 L438.08 355.36 L438.6 355.59 L439.12 355.5 L439.65 355.21 L440.18 354.86 L440.7 354.62 L441.23 354.13 L441.75 353.98 L442.27 353.68 L442.8 353.1 L443.32 352.6 L443.85 352.41 L444.38 352.38 L444.9 352.46 L445.41 352.58 L445.93 352.38 L446.44 352.7 L446.96 352.69 L447.47 352.7 L447.98 352.8 L448.5 353.04 L449.01 353.35 L449.52 353.38 L450.04 353.77 L450.55 353.86 L451.07 353.97 L451.58 354.39 L452.09 354.74 L452.61 354.62 L453.12 355.09 L453.63 355.33 L454.15 355.85 L454.66 356.11 L455.18 355.99 L455.69 356.51 L456.2 356.63 L456.72 356.48 L457.23 356.74 L457.74 356.66 L458.26 357.16 L458.77 357.14 L459.29 357.32 L459.8 357.28 L460.3 357.15 L460.8 357.03 L461.3 356.68 L461.8 356.1 L462.3 356.05 L462.8 355.36 L463.3 355.14 L463.8 355.27 L464.3 354.68 L464.8 354.66 L465.3 354.66 L465.8 355.11 L466.3 354.67 L466.8 354.56 L467.3 355.02 L467.8 354.55 L468.3 354.94 L468.8 354.8 L469.3 354.85 L469.8 354.87 L470.3 354.6 L470.8 354.69 L471.3 354.19 L471.8 354.58 L472.3 354.39 L472.8 354.49 L473.3 354.1 L473.8 354.46 L474.3 354.56 L474.8 354.04 L475.31 354.2 L475.83 354.37 L476.34 354.57 L476.85 354.28 L477.37 354.31 L477.88 354.44 L478.39 354.75 L478.9 354.94 L479.42 354.83 L479.93 354.94 L480.44 355.08 L480.96 355.17 L481.47 355.33 L481.98 355.25 L482.5 355.61 L483.01 356 L483.52 355.76 L484.03 356.05 L484.55 355.77 L485.06 356.14 L485.57 356.22 L486.09 356.2 L486.6 356.11" fill="none" stroke="#3d3d3d" stroke-width="1.1" stroke-linejoin="round"/>
<text x="444.95" y="274.85" font-size="7.74" font-weight="normal" fill="#000" textLength="38.92" lengthAdjust="spacingAndGlyphs">1.5%PLCN</text>
<text x="466.05" y="320.05" font-size="7.29" font-weight="normal" fill="#000" textLength="17.11" lengthAdjust="spacingAndGlyphs">BCN</text>
<text x="468.95" y="352.65" font-size="7.31" font-weight="normal" fill="#000" textLength="14.19" lengthAdjust="spacingAndGlyphs">Dark</text>
<rect x="308.15" y="233.9" width="179.9" height="142.5" fill="none" stroke="#000" stroke-width="1.9"/>
<line x1="331.9" y1="376.4" x2="331.9" y2="378.9" stroke="#000" stroke-width="1.1"/>
<line x1="370.85" y1="376.4" x2="370.85" y2="378.9" stroke="#000" stroke-width="1.1"/>
<line x1="409.8" y1="376.4" x2="409.8" y2="378.9" stroke="#000" stroke-width="1.1"/>
<line x1="448.75" y1="376.4" x2="448.75" y2="378.9" stroke="#000" stroke-width="1.1"/>
<line x1="487.7" y1="376.4" x2="487.7" y2="378.9" stroke="#000" stroke-width="1.1"/>
<line x1="312.42" y1="376.4" x2="312.42" y2="377.9" stroke="#000" stroke-width="1.1"/>
<line x1="351.38" y1="376.4" x2="351.38" y2="377.9" stroke="#000" stroke-width="1.1"/>
<line x1="390.32" y1="376.4" x2="390.32" y2="377.9" stroke="#000" stroke-width="1.1"/>
<line x1="429.27" y1="376.4" x2="429.27" y2="377.9" stroke="#000" stroke-width="1.1"/>
<line x1="468.23" y1="376.4" x2="468.23" y2="377.9" stroke="#000" stroke-width="1.1"/>
<text x="322.88" y="388.75" font-size="9.6" font-weight="bold" textLength="18.05" lengthAdjust="spacingAndGlyphs">3450</text>
<text x="361.83" y="388.75" font-size="9.6" font-weight="bold" textLength="18.05" lengthAdjust="spacingAndGlyphs">3475</text>
<text x="400.78" y="388.75" font-size="9.6" font-weight="bold" textLength="18.05" lengthAdjust="spacingAndGlyphs">3500</text>
<text x="439.73" y="388.75" font-size="9.6" font-weight="bold" textLength="18.05" lengthAdjust="spacingAndGlyphs">3525</text>
<text x="478.68" y="388.75" font-size="9.6" font-weight="bold" textLength="18.05" lengthAdjust="spacingAndGlyphs">3550</text>
<text x="377.6" y="403.4" font-size="11.45" font-weight="bold" fill="#000" textLength="46.01" lengthAdjust="spacingAndGlyphs">Field (G)</text>
<text x="260.2" y="307.3" font-size="12.1" font-weight="bold" fill="#000" transform="rotate(-90 298 304.4)">Intensity (a.u.)</text>
<text x="508.7" y="242.45" font-size="27" font-weight="bold" fill="#000">(f)</text>
<text x="553.55" y="244.35" font-size="8.22" font-weight="bold" fill="#000" textLength="41.47" lengthAdjust="spacingAndGlyphs">DMPO-·OH</text>
<path d="M547.4 279.02 L547.9 279.44 L548.4 279.45 L548.9 279.4 L549.4 279.06 L549.9 278.78 L550.4 278.78 L550.9 278.83 L551.4 279.43 L551.9 279.02 L552.4 278.69 L552.9 277.99 L553.4 278.7 L553.9 279.09 L554.4 279.04 L554.9 279.22 L555.4 279.49 L555.9 280.1 L556.4 279.73 L556.9 278.93 L557.4 278.29 L557.9 278.2 L558.4 278.1 L558.9 278.28 L559.4 277.99 L559.9 277.96 L560.4 278.24 L560.9 278.43 L561.4 279.25 L561.9 279.3 L562.4 279.5 L562.9 279.16 L563.4 279.3 L563.9 279.12 L564.4 278.9 L564.9 279.23 L565.4 279.77 L565.9 280.33 L566.4 280.04 L566.9 279.36 L567.4 278.75 L567.9 278.33 L568.4 278.09 L568.9 278.63 L569.4 278.74 L569.9 279.51 L570.4 279.13 L570.9 279.69 L571.4 279.69 L571.9 279.31 L572.4 278.56 L572.9 278.62 L573.4 279.09 L573.9 279.86 L574.4 279.35 L574.9 278.95 L575.4 278.6 L575.9 278.98 L576.4 279.18 L576.9 278.64 L577.4 278.19 L577.9 278.88 L578.4 279.55 L578.9 279.34 L579.4 278.62 L579.9 277.97 L580.4 277.91 L580.9 278.46 L581.4 278.53 L581.9 279.03 L582.4 278.68 L582.9 278.7 L583.4 278.87 L583.9 278.55 L584.4 279.01 L584.9 278.39 L585.4 278.68 L585.9 278.25 L586.4 278.4 L586.9 278.95 L587.4 279.54 L587.9 279.58 L588.4 279.49 L588.9 278.9 L589.4 278.98 L589.9 278.93 L590.4 279.25 L590.9 278.6 L591.4 277.77 L591.9 275.36 L592.4 272.51 L592.9 269.37 L593.4 268.84 L593.9 272.25 L594.4 278.2 L594.9 284.61 L595.4 288.27 L595.9 287.79 L596.4 285.37 L596.9 282.16 L597.4 280.39 L597.9 279.78 L598.4 279.53 L598.9 279.55 L599.4 279.43 L599.9 279.12 L600.4 278.7 L600.9 278.75 L601.4 279.38 L601.9 279.48 L602.4 278.76 L602.9 278.68 L603.4 279.37 L603.9 279.38 L604.4 279.59 L604.9 279.53 L605.4 279.94 L605.9 279.41 L606.4 278.63 L606.9 278.06 L607.4 278.61 L607.9 278.74 L608.4 279.41 L608.9 278.7 L609.4 279.29 L609.9 279.18 L610.4 279.21 L610.9 278.56 L611.4 278.69 L611.9 278.44 L612.4 278.4 L612.9 277.87 L613.4 277.54 L613.9 275.22 L614.4 269.96 L614.9 263.54 L615.4 258.44 L615.9 259.91 L616.4 269.34 L616.9 284.11 L617.4 295.62 L617.9 298.94 L618.4 295.11 L618.9 289.14 L619.4 283.69 L619.9 280.55 L620.4 279.51 L620.9 279.89 L621.4 280.06 L621.9 279.83 L622.4 279.43 L622.9 278.92 L623.4 278.26 L623.9 277.69 L624.4 278.46 L624.9 279.13 L625.4 280.07 L625.9 279.19 L626.4 279.12 L626.9 278.64 L627.4 279.35 L627.9 279.03 L628.4 279.55 L628.9 278.89 L629.4 279.12 L629.9 278.86 L630.4 279.68 L630.9 279.87 L631.4 279.84 L631.9 279.73 L632.4 279.91 L632.9 279.56 L633.4 279.45 L633.9 279.43 L634.4 279.93 L634.9 279.54 L635.4 278.99 L635.9 277.71 L636.4 274.93 L636.9 269.69 L637.4 263.14 L637.9 259.63 L638.4 262.81 L638.9 273.26 L639.4 286.94 L639.9 296.77 L640.4 299.2 L640.9 294.89 L641.4 288.2 L641.9 283.39 L642.4 280.71 L642.9 279.71 L643.4 279.47 L643.9 278.88 L644.4 279.18 L644.9 278.36 L645.4 278.88 L645.9 278.61 L646.4 278.81 L646.9 278.91 L647.4 278.93 L647.9 279.31 L648.4 279.53 L648.9 279.29 L649.4 278.69 L649.9 278.07 L650.4 278.49 L650.9 278.68 L651.4 278.55 L651.9 278.78 L652.4 279.24 L652.9 279.51 L653.4 279.49 L653.9 279.16 L654.4 279.38 L654.9 278.69 L655.4 278.8 L655.9 278.93 L656.4 279.65 L656.9 280.07 L657.4 279.55 L657.9 278.87 L658.4 277.38 L658.9 275.23 L659.4 272.26 L659.9 269.97 L660.4 270.06 L660.9 273.51 L661.4 280.01 L661.9 285.83 L662.4 288.52 L662.9 287.4 L663.4 284.59 L663.9 281.75 L664.4 279.81 L664.9 279.23 L665.4 279.17 L665.9 278.96 L666.4 279.15 L666.9 279.64 L667.4 279.77 L667.9 279.01 L668.4 278.06 L668.9 278.48 L669.4 278.45 L669.9 279.12 L670.4 278.82 L670.9 279.09 L671.4 279.17 L671.9 278.62 L672.4 278.45 L672.9 278.11 L673.4 278.12 L673.9 278.81 L674.4 278.59 L674.9 278.71 L675.4 277.93 L675.9 278.32 L676.4 278.62 L676.9 279.21 L677.4 279.23 L677.9 279.59 L678.4 279.92 L678.9 279.95 L679.4 279.34 L679.9 278.86 L680.4 278.35 L680.9 278.16 L681.4 278.16 L681.9 278.7 L682.4 278.87 L682.9 278.67 L683.4 278.3 L683.9 278.82 L684.4 279.06 L684.9 279.33 L685.4 279.39 L685.9 279.26 L686.4 279.44 L686.9 279.59 L687.4 279.29 L687.9 279.43 L688.4 279.24 L688.9 279.28 L689.4 278.81 L689.9 278.71 L690.4 279.49 L690.9 279.41 L691.4 279.36 L691.9 279.32 L692.4 279.74 L692.9 280.12 L693.4 279.7 L693.9 279.56 L694.4 278.82 L694.9 279.08 L695.4 279.25 L695.9 279.68 L696.4 279.68 L696.9 279.07 L697.4 279.33 L697.9 279.59 L698.4 280.36 L698.9 279.99 L699.4 279.81 L699.9 279.15 L700.4 279.52 L700.9 279.59 L701.4 279.61 L701.9 278.79 L702.4 278.37 L702.9 278.57 L703.4 279.26 L703.9 279.31 L704.4 278.78 L704.9 278.82 L705.4 278.4 L705.9 279.17 L706.4 278.54 L706.9 278.81 L707.4 278.8 L707.9 278.76 L708.4 278.58 L708.9 278.31 L709.4 278.89 L709.9 279.58 L710.4 279.75 L710.9 279.98 L711.4 279.63 L711.9 279.89 L712.4 279.03 L712.9 278.76 L713.4 278.33 L713.9 278.54 L714.4 279.05 L714.9 279.16 L715.4 279.39 L715.9 279.51 L716.4 279.43 L716.9 279.22 L717.4 278.75 L717.9 279.04 L718.4 279.63 L718.9 279.45 L719.4 279.46 L719.9 279.53 L720.4 279.84 L720.9 279.57 L721.4 278.8 L721.9 278.81 L722.4 278.74 L722.9 279.14 L723.4 278.64 L723.9 279.1 L724.4 279.01 L724.9 279.39 L725.4 278.87" fill="none" stroke="#e8707e" stroke-width="1" stroke-linejoin="round"/>
<path d="M547.4 319.6 L547.9 319.37 L548.4 319.18 L548.9 319.14 L549.4 318.99 L549.9 319.05 L550.4 319.26 L550.9 319.5 L551.4 319.57 L551.9 319.73 L552.4 319.46 L552.9 319.36 L553.4 319.19 L553.9 319.33 L554.4 319.08 L554.9 319.35 L555.4 319.21 L555.9 319.42 L556.4 319.19 L556.9 319.33 L557.4 319.34 L557.9 319.32 L558.4 319.07 L558.9 319.3 L559.4 319.34 L559.9 319.04 L560.4 319.43 L560.9 319.78 L561.4 319.46 L561.9 319.42 L562.4 319.44 L562.9 319.17 L563.4 319.04 L563.9 319.06 L564.4 319.17 L564.9 319.14 L565.4 319.08 L565.9 319.16 L566.4 319.25 L566.9 319.14 L567.4 319.36 L567.9 319.48 L568.4 319.31 L568.9 319.16 L569.4 319.29 L569.9 319.43 L570.4 319.63 L570.9 319.75 L571.4 319.88 L571.9 319.73 L572.4 319.62 L572.9 319.5 L573.4 319.28 L573.9 319.23 L574.4 319.23 L574.9 319.16 L575.4 319.21 L575.9 319.37 L576.4 319.29 L576.9 319.47 L577.4 319.44 L577.9 319.32 L578.4 319.21 L578.9 319.37 L579.4 319.19 L579.9 319.33 L580.4 319.16 L580.9 319.3 L581.4 319.2 L581.9 319.32 L582.4 319.03 L582.9 319.09 L583.4 319.01 L583.9 319.2 L584.4 318.94 L584.9 319.11 L585.4 319.08 L585.9 319.06 L586.4 318.99 L586.9 319.35 L587.4 319.36 L587.9 319.66 L588.4 319.61 L588.9 319.78 L589.4 319.52 L589.9 319.32 L590.4 319.05 L590.9 318.96 L591.4 317.91 L591.9 316.94 L592.4 316.2 L592.9 315.47 L593.4 315.52 L593.9 316.92 L594.4 318.96 L594.9 321.04 L595.4 322.69 L595.9 323.31 L596.4 322.94 L596.9 321.96 L597.4 320.91 L597.9 320.15 L598.4 319.7 L598.9 319.56 L599.4 319.56 L599.9 319.62 L600.4 319.49 L600.9 319.4 L601.4 319.25 L601.9 319.54 L602.4 319.68 L602.9 319.56 L603.4 319.42 L603.9 319.67 L604.4 319.4 L604.9 319.42 L605.4 319.56 L605.9 319.72 L606.4 319.66 L606.9 319.63 L607.4 319.37 L607.9 319.26 L608.4 319.26 L608.9 319.25 L609.4 319.22 L609.9 319.46 L610.4 319.52 L610.9 319.34 L611.4 319.21 L611.9 319.47 L612.4 319.12 L612.9 318.71 L613.4 318.03 L613.9 316.73 L614.4 314.76 L614.9 313.04 L615.4 312.53 L615.9 313.96 L616.4 317.24 L616.9 321.43 L617.4 325.04 L617.9 326.8 L618.4 326.58 L618.9 324.99 L619.4 322.86 L619.9 321.39 L620.4 320.55 L620.9 320 L621.4 319.88 L621.9 320.13 L622.4 320.03 L622.9 319.97 L623.4 319.81 L623.9 319.49 L624.4 319.26 L624.9 319.17 L625.4 319.23 L625.9 319.35 L626.4 319.53 L626.9 319.64 L627.4 319.56 L627.9 319.4 L628.4 319.41 L628.9 319.35 L629.4 319.2 L629.9 319.31 L630.4 319.23 L630.9 319.22 L631.4 319.12 L631.9 319.06 L632.4 319.02 L632.9 319.17 L633.4 319.19 L633.9 319.36 L634.4 319.61 L634.9 319.38 L635.4 318.58 L635.9 317.47 L636.4 315.87 L636.9 313.78 L637.4 312.48 L637.9 312.46 L638.4 314.1 L638.9 317.48 L639.4 321.8 L639.9 324.69 L640.4 326.05 L640.9 325.6 L641.4 323.99 L641.9 322.01 L642.4 320.67 L642.9 320 L643.4 319.62 L643.9 319.62 L644.4 319.43 L644.9 319.51 L645.4 319.38 L645.9 319.51 L646.4 319.33 L646.9 319.45 L647.4 319.61 L647.9 319.7 L648.4 319.45 L648.9 319.56 L649.4 319.69 L649.9 319.5 L650.4 319.44 L650.9 319.61 L651.4 319.79 L651.9 319.7 L652.4 319.82 L652.9 319.69 L653.4 319.72 L653.9 319.46 L654.4 319.43 L654.9 319.31 L655.4 319.29 L655.9 319.04 L656.4 318.97 L656.9 318.92 L657.4 318.69 L657.9 318.21 L658.4 317.82 L658.9 316.94 L659.4 316.16 L659.9 315.75 L660.4 316.2 L660.9 317.57 L661.4 319.88 L661.9 321.69 L662.4 322.85 L662.9 323.26 L663.4 322.7 L663.9 321.65 L664.4 320.93 L664.9 320.39 L665.4 320 L665.9 319.59 L666.4 319.43 L666.9 319.24 L667.4 319.22 L667.9 319.13 L668.4 319.35 L668.9 319.26 L669.4 319.19 L669.9 319.13 L670.4 319.36 L670.9 319.25 L671.4 319.2 L671.9 319.45 L672.4 319.7 L672.9 319.64 L673.4 319.58 L673.9 319.85 L674.4 319.64 L674.9 319.34 L675.4 319.36 L675.9 319.55 L676.4 319.34 L676.9 319.57 L677.4 319.53 L677.9 319.3 L678.4 318.97 L678.9 318.96 L679.4 318.67 L679.9 318.95 L680.4 318.94 L680.9 319.01 L681.4 319.02 L681.9 319.08 L682.4 319.14 L682.9 319.26 L683.4 319.23 L683.9 319.43 L684.4 319.52 L684.9 319.35 L685.4 319.32 L685.9 319.54 L686.4 319.59 L686.9 319.57 L687.4 319.65 L687.9 319.62 L688.4 319.62 L688.9 319.45 L689.4 319.42 L689.9 319.37 L690.4 319.47 L690.9 319.33 L691.4 319.54 L691.9 319.57 L692.4 319.71 L692.9 319.7 L693.4 319.97 L693.9 319.87 L694.4 319.84 L694.9 319.66 L695.4 319.63 L695.9 319.55 L696.4 319.61 L696.9 319.49 L697.4 319.36 L697.9 319.16 L698.4 318.89 L698.9 318.58 L699.4 318.53 L699.9 318.6 L700.4 318.6 L700.9 318.85 L701.4 319.07 L701.9 319.45 L702.4 319.74 L702.9 319.99 L703.4 320.1 L703.9 319.86 L704.4 319.57 L704.9 319.55 L705.4 319.44 L705.9 319.15 L706.4 319.44 L706.9 319.52 L707.4 319.36 L707.9 319.3 L708.4 319.31 L708.9 319.04 L709.4 319.12 L709.9 319.28 L710.4 319.55 L710.9 319.76 L711.4 320.1 L711.9 320 L712.4 319.74 L712.9 319.71 L713.4 319.65 L713.9 319.54 L714.4 319.4 L714.9 319.37 L715.4 319.2 L715.9 319.25 L716.4 319.31 L716.9 319.61 L717.4 319.65 L717.9 319.61 L718.4 319.67 L718.9 319.73 L719.4 319.62 L719.9 319.57 L720.4 319.66 L720.9 319.53 L721.4 319.28 L721.9 319.18 L722.4 319.26 L722.9 319.25 L723.4 319.09 L723.9 319.16 L724.4 319.45 L724.9 319.52 L725.4 319.48" fill="none" stroke="#1f7a30" stroke-width="1.05" stroke-linejoin="round"/>
<path d="M547.4 361.43 L547.9 361.6 L548.4 362.07 L548.9 361.68 L549.4 361.31 L549.9 360.75 L550.4 360.78 L550.9 361.19 L551.4 361.17 L551.9 361.42 L552.4 361 L552.9 361.13 L553.4 361.05 L553.9 361.55 L554.4 361.8 L554.9 361.47 L555.4 361.02 L555.9 360.65 L556.4 361.34 L556.9 361.76 L557.4 362.29 L557.9 362.25 L558.4 362.2 L558.9 362.32 L559.4 362.29 L559.9 361.9 L560.4 361.82 L560.9 361.57 L561.4 361.97 L561.9 361.74 L562.4 361.7 L562.9 361.39 L563.4 361.28 L563.9 361.19 L564.4 360.99 L564.9 361.3 L565.4 361.69 L565.9 362.38 L566.4 362.28 L566.9 362.08 L567.4 361.89 L567.9 361.45 L568.4 361.55 L568.9 361.3 L569.4 361.34 L569.9 360.96 L570.4 361.02 L570.9 361.08 L571.4 361.29 L571.9 361.35 L572.4 361.47 L572.9 361.21 L573.4 361.11 L573.9 360.99 L574.4 361.07 L574.9 360.83 L575.4 360.94 L575.9 360.81 L576.4 361.17 L576.9 361.64 L577.4 361.9 L577.9 361.95 L578.4 361.93 L578.9 361.66 L579.4 361.19 L579.9 361.09 L580.4 361.73 L580.9 362.13 L581.4 361.61 L581.9 361.27 L582.4 361.45 L582.9 362.03 L583.4 362.35 L583.9 361.81 L584.4 361.79 L584.9 361.45 L585.4 361.86 L585.9 361.28 L586.4 361.76 L586.9 361.67 L587.4 362.14 L587.9 361.53 L588.4 361.54 L588.9 361.43 L589.4 361.73 L589.9 361.53 L590.4 361.64 L590.9 361.44 L591.4 361.39 L591.9 360.94 L592.4 361.22 L592.9 361.07 L593.4 361.12 L593.9 360.63 L594.4 361.05 L594.9 361.32 L595.4 361.69 L595.9 361.21 L596.4 361.12 L596.9 360.96 L597.4 361 L597.9 360.65 L598.4 361.17 L598.9 361.2 L599.4 361.44 L599.9 360.85 L600.4 361.23 L600.9 361.05 L601.4 361.22 L601.9 361.03 L602.4 361.64 L602.9 361.27 L603.4 361.24 L603.9 360.97 L604.4 361.74 L604.9 361.89 L605.4 361.87 L605.9 361.63 L606.4 361.45 L606.9 361.1 L607.4 360.96 L607.9 361.45 L608.4 362.02 L608.9 361.83 L609.4 361.64 L609.9 361.73 L610.4 361.73 L610.9 361.66 L611.4 361.26 L611.9 361.25 L612.4 361.01 L612.9 360.89 L613.4 360.97 L613.9 360.77 L614.4 360.93 L614.9 360.72 L615.4 361.29 L615.9 361.46 L616.4 361.39 L616.9 361.4 L617.4 361.07 L617.9 361.46 L618.4 361.28 L618.9 361.39 L619.4 361.24 L619.9 361.15 L620.4 360.99 L620.9 361.45 L621.4 361.19 L621.9 361.74 L622.4 361.22 L622.9 361.38 L623.4 361.03 L623.9 360.88 L624.4 360.74 L624.9 360.72 L625.4 361.04 L625.9 361.64 L626.4 362.15 L626.9 361.83 L627.4 361.55 L627.9 360.87 L628.4 361.47 L628.9 361.3 L629.4 361.92 L629.9 361.71 L630.4 361.55 L630.9 360.84 L631.4 360.6 L631.9 361.2 L632.4 361.31 L632.9 361.5 L633.4 361.1 L633.9 361.26 L634.4 361.51 L634.9 361.39 L635.4 361.69 L635.9 361.58 L636.4 362.16 L636.9 362 L637.4 362.2 L637.9 361.8 L638.4 361.85 L638.9 361.61 L639.4 361.93 L639.9 362.19 L640.4 361.78 L640.9 361.22 L641.4 360.93 L641.9 361.49 L642.4 361.8 L642.9 361.62 L643.4 361.74 L643.9 361.55 L644.4 361.38 L644.9 360.65 L645.4 360.44 L645.9 360.95 L646.4 360.99 L646.9 361.54 L647.4 361.65 L647.9 362.37 L648.4 362.44 L648.9 362.09 L649.4 361.78 L649.9 361.8 L650.4 362.04 L650.9 361.77 L651.4 361.71 L651.9 361.23 L652.4 361.24 L652.9 361.43 L653.4 361.72 L653.9 361.69 L654.4 361.52 L654.9 361.5 L655.4 361.29 L655.9 360.69 L656.4 360.53 L656.9 360.8 L657.4 361.52 L657.9 361.51 L658.4 361.93 L658.9 361.86 L659.4 362 L659.9 362.11 L660.4 362.04 L660.9 362.09 L661.4 361.51 L661.9 361.27 L662.4 361.6 L662.9 361.82 L663.4 361.61 L663.9 361.18 L664.4 361.14 L664.9 361.13 L665.4 361.29 L665.9 360.94 L666.4 361.44 L666.9 361.13 L667.4 361.18 L667.9 361 L668.4 361.1 L668.9 361.73 L669.4 361.65 L669.9 361.82 L670.4 361.78 L670.9 361.56 L671.4 361.74 L671.9 361.59 L672.4 361.76 L672.9 361.93 L673.4 361.43 L673.9 361.77 L674.4 361.12 L674.9 361.78 L675.4 361.21 L675.9 361.14 L676.4 360.87 L676.9 361.48 L677.4 361.65 L677.9 361.64 L678.4 361.38 L678.9 361.37 L679.4 361.41 L679.9 360.93 L680.4 361.09 L680.9 361.27 L681.4 361.54 L681.9 361.36 L682.4 360.79 L682.9 361.08 L683.4 361.24 L683.9 361.93 L684.4 361.97 L684.9 361.7 L685.4 361.7 L685.9 361.86 L686.4 362.43 L686.9 362.36 L687.4 362.16 L687.9 362.09 L688.4 361.96 L688.9 361.88 L689.4 361.51 L689.9 361.09 L690.4 361.19 L690.9 361.47 L691.4 361.4 L691.9 361.34 L692.4 361.35 L692.9 361.71 L693.4 361.82 L693.9 362.03 L694.4 361.93 L694.9 361.96 L695.4 361.66 L695.9 361.81 L696.4 361.49 L696.9 361.84 L697.4 361.73 L697.9 362.16 L698.4 361.69 L698.9 361.87 L699.4 361.84 L699.9 362.11 L700.4 361.88 L700.9 361.21 L701.4 361.05 L701.9 361.08 L702.4 361.67 L702.9 361.91 L703.4 362.37 L703.9 362.07 L704.4 361.78 L704.9 361.44 L705.4 361.68 L705.9 361.42 L706.4 361.14 L706.9 360.65 L707.4 360.85 L707.9 360.92 L708.4 361.57 L708.9 361.48 L709.4 361.99 L709.9 361.45 L710.4 361.45 L710.9 361.48 L711.4 361.31 L711.9 361.24 L712.4 360.56 L712.9 360.55 L713.4 360.77 L713.9 360.83 L714.4 360.91 L714.9 360.61 L715.4 361 L715.9 360.91 L716.4 361.08 L716.9 360.98 L717.4 361.64 L717.9 361.99 L718.4 362.1 L718.9 361.96 L719.4 362.07 L719.9 362.18 L720.4 361.74 L720.9 361.15 L721.4 360.96 L721.9 361.26 L722.4 361.63 L722.9 361.76 L723.4 361.48 L723.9 361.63 L724.4 361.35 L724.9 361.54 L725.4 361.32" fill="none" stroke="#333333" stroke-width="1" stroke-linejoin="round"/>
<text x="686.95" y="273.65" font-size="8.18" font-weight="normal" fill="#000" textLength="35.48" lengthAdjust="spacingAndGlyphs">1.5%PLCN</text>
<text x="707.25" y="326.45" font-size="7.74" font-weight="normal" fill="#000" textLength="15.63" lengthAdjust="spacingAndGlyphs">BCN</text>
<text x="708.15" y="358.55" font-size="8.52" font-weight="normal" fill="#000" textLength="14.69" lengthAdjust="spacingAndGlyphs">Dark</text>
<rect x="546.9" y="233.5" width="179.15" height="143.15" fill="none" stroke="#000" stroke-width="1.9"/>
<line x1="546.5" y1="376.65" x2="546.5" y2="379.15" stroke="#000" stroke-width="1.1"/>
<line x1="576.35" y1="376.65" x2="576.35" y2="379.15" stroke="#000" stroke-width="1.1"/>
<line x1="606.2" y1="376.65" x2="606.2" y2="379.15" stroke="#000" stroke-width="1.1"/>
<line x1="636.05" y1="376.65" x2="636.05" y2="379.15" stroke="#000" stroke-width="1.1"/>
<line x1="665.9" y1="376.65" x2="665.9" y2="379.15" stroke="#000" stroke-width="1.1"/>
<line x1="695.75" y1="376.65" x2="695.75" y2="379.15" stroke="#000" stroke-width="1.1"/>
<line x1="725.6" y1="376.65" x2="725.6" y2="379.15" stroke="#000" stroke-width="1.1"/>
<text x="537.76" y="388.85" font-size="9.3" font-weight="bold" textLength="17.48" lengthAdjust="spacingAndGlyphs">3440</text>
<text x="567.61" y="388.85" font-size="9.3" font-weight="bold" textLength="17.48" lengthAdjust="spacingAndGlyphs">3460</text>
<text x="597.46" y="388.85" font-size="9.3" font-weight="bold" textLength="17.48" lengthAdjust="spacingAndGlyphs">3480</text>
<text x="627.31" y="388.85" font-size="9.3" font-weight="bold" textLength="17.48" lengthAdjust="spacingAndGlyphs">3500</text>
<text x="657.16" y="388.85" font-size="9.3" font-weight="bold" textLength="17.48" lengthAdjust="spacingAndGlyphs">3520</text>
<text x="687.01" y="388.85" font-size="9.3" font-weight="bold" textLength="17.48" lengthAdjust="spacingAndGlyphs">3540</text>
<text x="716.86" y="388.85" font-size="9.3" font-weight="bold" textLength="17.48" lengthAdjust="spacingAndGlyphs">3560</text>
<text x="615.4" y="402.2" font-size="12.06" font-weight="bold" fill="#000" textLength="42.42" lengthAdjust="spacingAndGlyphs">Field (G)</text>
<text x="497.5" y="306.75" font-size="12.1" font-weight="bold" fill="#000" transform="rotate(-90 535.3 303.85)">Intensity (a.u.)</text>
</svg>
</body></html>
